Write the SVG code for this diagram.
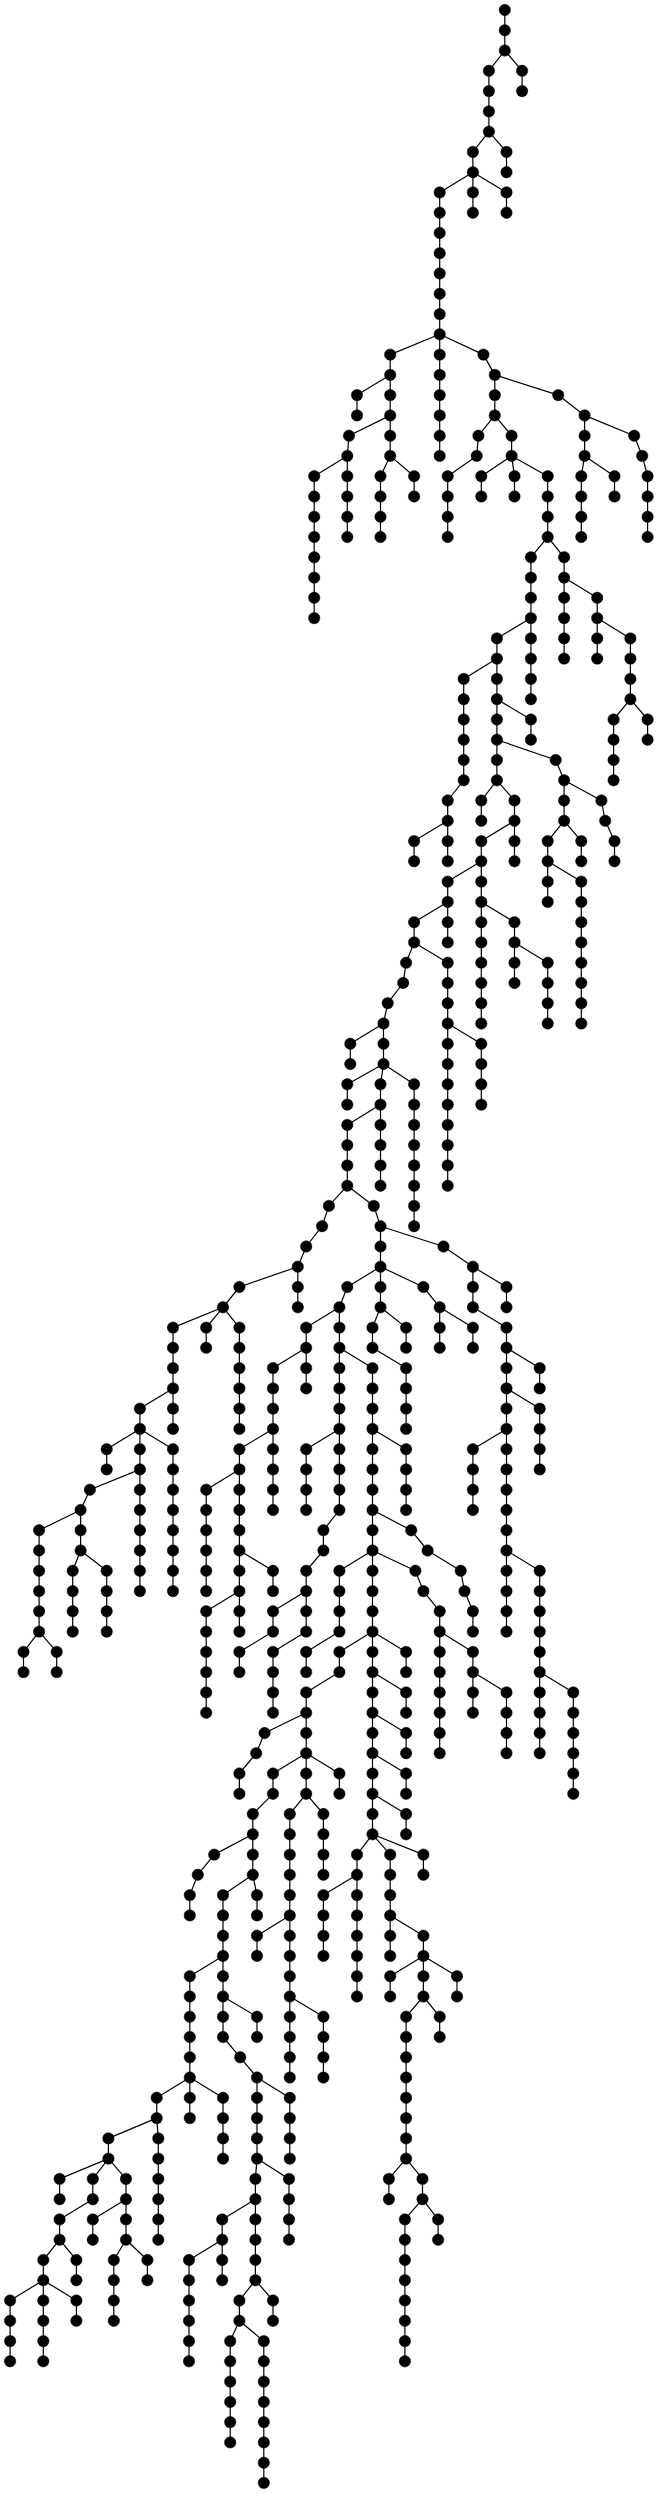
<svg xmlns="http://www.w3.org/2000/svg" width="658" height="2493" viewBox="0 0 658 2493">
<style>
#edges path{stroke:#000;stroke-width:1.2;fill:none}
.nodes circle{fill:#000;stroke:#000;stroke-width:0.5}
</style>
<rect x="0" y="0" width="658" height="2493" fill="#fff"/>
<g id="edges">
<path d="M504.8 10V30.3"/><path d="M504.8 30.3V50.5"/><path d="M504.8 50.5L488.9 70.8"/><path d="M504.8 50.5L522.1 70.8"/>
<path d="M488.9 70.8V91.1"/><path d="M522.1 70.8V91.1"/><path d="M488.9 91.1V111.4"/><path d="M488.9 111.4V131.6"/>
<path d="M488.9 131.6L472.9 151.9"/><path d="M488.9 131.6L506.5 151.9"/><path d="M472.9 151.9V172.2"/><path d="M506.5 151.9V172.2"/>
<path d="M472.9 172.2L439.7 192.4"/><path d="M472.9 172.2V192.4"/><path d="M472.9 172.2L506.5 192.4"/>
<path d="M439.7 192.4V212.7"/><path d="M472.9 192.4V212.7"/><path d="M506.5 192.4V212.7"/>
<path d="M439.7 212.7V233"/><path d="M439.7 233V253.2"/><path d="M439.7 253.2V273.5"/><path d="M439.7 273.5V293.8"/><path d="M439.7 293.8V314.1"/><path d="M439.7 314.1V334.3"/>
<path d="M439.7 334.3L390.2 354.6"/><path d="M439.7 334.3V354.6"/><path d="M439.7 334.3L483.4 354.6"/>
<path d="M390.2 354.6V374.9"/><path d="M439.7 354.6V374.9"/><path d="M483.4 354.6L494.8 374.9"/>
<path d="M390.2 374.9L357 395.1"/><path d="M390.2 374.9V395.1"/><path d="M439.7 374.9V395.1"/><path d="M494.8 374.9V395.1"/><path d="M494.8 374.9L558.2 395.1"/>
<path d="M357 395.1V415.4"/><path d="M390.2 395.1V415.4"/><path d="M439.7 395.1V415.4"/><path d="M494.8 395.1V415.4"/><path d="M558.2 395.1L584.6 415.4"/>
<path d="M390.2 415.4L349 435.7"/><path d="M390.2 415.4V435.7"/><path d="M439.7 415.4V435.7"/><path d="M494.8 415.4L478.4 435.7"/><path d="M494.8 415.4L511.6 435.7"/><path d="M584.6 415.4V435.7"/><path d="M584.6 415.4L634.2 435.7"/>
<path d="M349 435.7L347.3 455.9"/><path d="M390.2 435.7V455.9"/><path d="M439.7 435.7V455.9"/><path d="M478.4 435.7L476.7 455.9"/><path d="M511.6 435.7V455.9"/><path d="M584.6 435.7V455.9"/><path d="M634.2 435.7L642.2 455.9"/>
<path d="M347.3 455.9L314.2 476.2"/><path d="M347.3 455.9V476.2"/><path d="M390.2 455.9L380.5 476.2"/><path d="M390.2 455.9L414.1 476.2"/><path d="M476.7 455.9L447.7 476.2"/><path d="M511.6 455.9L481.3 476.2"/><path d="M511.6 455.9L514.5 476.2"/><path d="M511.6 455.9L547.7 476.2"/><path d="M584.6 455.9L581.3 476.2"/><path d="M584.6 455.9L614.5 476.2"/><path d="M642.2 455.9L647.6 476.2"/>
<path d="M314.2 476.2V496.5"/><path d="M347.3 476.2V496.5"/><path d="M380.5 476.2V496.5"/><path d="M414.1 476.2V496.5"/><path d="M447.7 476.2V496.5"/><path d="M481.3 476.2V496.5"/><path d="M514.5 476.2V496.5"/><path d="M547.7 476.2V496.5"/><path d="M581.3 476.2V496.5"/><path d="M614.5 476.2V496.5"/><path d="M647.6 476.2V496.5"/>
<path d="M314.2 496.5V516.8"/><path d="M347.3 496.5V516.8"/><path d="M380.5 496.5V516.8"/><path d="M447.7 496.5V516.8"/><path d="M547.7 496.5V516.8"/><path d="M581.3 496.5V516.8"/><path d="M647.6 496.5V516.8"/>
<path d="M314.2 516.8V537"/><path d="M347.3 516.8V537"/><path d="M380.5 516.8V537"/><path d="M447.7 516.8V537"/><path d="M547.7 516.8V537"/><path d="M581.3 516.8V537"/><path d="M647.6 516.8V537"/>
<path d="M314.2 537V557.3"/><path d="M547.7 537L530.9 557.3"/><path d="M547.7 537L564.1 557.3"/>
<path d="M314.2 557.3V577.6"/><path d="M530.9 557.3V577.6"/><path d="M564.1 557.3V577.6"/>
<path d="M314.2 577.6V597.8"/><path d="M530.9 577.6V597.8"/><path d="M564.1 577.6V597.8"/><path d="M564.1 577.6L597.2 597.8"/>
<path d="M314.2 597.8V618.1"/><path d="M530.9 597.8V618.1"/><path d="M564.1 597.8V618.1"/><path d="M597.2 597.8V618.1"/>
<path d="M530.9 618.1L496.9 638.4"/><path d="M530.9 618.1V638.4"/><path d="M564.1 618.1V638.4"/><path d="M597.2 618.1V638.4"/><path d="M597.2 618.1L630.4 638.4"/>
<path d="M496.9 638.4V658.6"/><path d="M530.9 638.4V658.6"/><path d="M564.1 638.4V658.6"/><path d="M597.2 638.4V658.6"/><path d="M630.4 638.4V658.6"/>
<path d="M496.9 658.6L463.7 678.9"/><path d="M496.9 658.6V678.9"/><path d="M530.9 658.6V678.9"/><path d="M630.4 658.6V678.9"/>
<path d="M463.7 678.9V699.2"/><path d="M496.9 678.9V699.2"/><path d="M530.9 678.9V699.2"/><path d="M630.4 678.9V699.2"/>
<path d="M463.7 699.2V719.5"/><path d="M496.9 699.2V719.5"/><path d="M496.9 699.2L530.9 719.5"/><path d="M630.4 699.2L613.6 719.5"/><path d="M630.4 699.2L647.6 719.5"/>
<path d="M463.7 719.5V739.7"/><path d="M496.9 719.5V739.7"/><path d="M530.9 719.5V739.7"/><path d="M613.6 719.5V739.7"/><path d="M647.6 719.5V739.7"/>
<path d="M463.7 739.7V760"/><path d="M496.9 739.7V760"/><path d="M496.9 739.7L555.7 760"/><path d="M613.6 739.7V760"/>
<path d="M463.7 760V780.3"/><path d="M496.9 760V780.3"/><path d="M555.7 760L564.1 780.3"/><path d="M613.6 760V780.3"/>
<path d="M463.7 780.3L447.7 800.5"/><path d="M496.9 780.3L481.3 800.5"/><path d="M496.9 780.3L514.5 800.5"/><path d="M564.1 780.3V800.5"/><path d="M564.1 780.3L601.4 800.5"/>
<path d="M447.7 800.5V820.8"/><path d="M481.3 800.5V820.8"/><path d="M514.5 800.5V820.8"/><path d="M564.1 800.5V820.8"/><path d="M601.4 800.5L605.2 820.8"/>
<path d="M447.7 820.8L414.1 841.1"/><path d="M447.7 820.8V841.1"/><path d="M514.5 820.8L481.3 841.1"/><path d="M514.5 820.8V841.1"/><path d="M564.1 820.8L547.7 841.1"/><path d="M564.1 820.8L581.3 841.1"/><path d="M605.2 820.8L614.5 841.1"/>
<path d="M414.1 841.1V861.3"/><path d="M447.7 841.1V861.3"/><path d="M481.3 841.1V861.3"/><path d="M514.5 841.1V861.3"/><path d="M547.7 841.1V861.3"/><path d="M581.3 841.1V861.3"/><path d="M614.5 841.1V861.3"/>
<path d="M481.3 861.3L447.7 881.6"/><path d="M481.3 861.3V881.6"/><path d="M547.7 861.3V881.6"/><path d="M547.7 861.3L581.3 881.6"/>
<path d="M447.7 881.6V901.9"/><path d="M481.3 881.6V901.9"/><path d="M547.7 881.6V901.9"/><path d="M581.3 881.6V901.9"/>
<path d="M447.7 901.9L414.1 922.2"/><path d="M447.7 901.9V922.2"/><path d="M481.3 901.9V922.2"/><path d="M481.3 901.9L514.5 922.2"/><path d="M581.3 901.9V922.2"/>
<path d="M414.1 922.2V942.4"/><path d="M447.7 922.2V942.4"/><path d="M481.3 922.2V942.4"/><path d="M514.5 922.2V942.4"/><path d="M581.3 922.2V942.4"/>
<path d="M414.1 942.4L406.1 962.7"/><path d="M414.1 942.4L447.7 962.7"/><path d="M481.3 942.4V962.7"/><path d="M514.5 942.4V962.7"/><path d="M514.5 942.4L547.7 962.7"/><path d="M581.3 942.4V962.7"/>
<path d="M406.1 962.7L403.2 983"/><path d="M447.7 962.7V983"/><path d="M481.3 962.7V983"/><path d="M514.5 962.7V983"/><path d="M547.7 962.7V983"/><path d="M581.3 962.7V983"/>
<path d="M403.2 983L387.7 1003.2"/><path d="M447.7 983V1003.2"/><path d="M481.3 983V1003.2"/><path d="M547.7 983V1003.2"/><path d="M581.3 983V1003.2"/>
<path d="M387.7 1003.2L383.5 1023.5"/><path d="M447.7 1003.2V1023.5"/><path d="M481.3 1003.2V1023.5"/><path d="M547.7 1003.2V1023.5"/><path d="M581.3 1003.2V1023.5"/>
<path d="M383.5 1023.5L350.3 1043.8"/><path d="M383.5 1023.5V1043.8"/><path d="M447.7 1023.5V1043.8"/><path d="M447.7 1023.5L481.3 1043.8"/>
<path d="M350.3 1043.8V1064"/><path d="M383.5 1043.8V1064"/><path d="M447.7 1043.8V1064"/><path d="M481.3 1043.8V1064"/>
<path d="M383.5 1064L347.3 1084.3"/><path d="M383.5 1064L380.5 1084.3"/><path d="M383.5 1064L414.1 1084.3"/><path d="M447.7 1064V1084.3"/><path d="M481.3 1064V1084.3"/>
<path d="M347.3 1084.3V1104.6"/><path d="M380.5 1084.3V1104.6"/><path d="M414.1 1084.3V1104.6"/><path d="M447.7 1084.3V1104.6"/><path d="M481.3 1084.3V1104.6"/>
<path d="M380.5 1104.6L347.3 1124.9"/><path d="M380.5 1104.6V1124.9"/><path d="M414.1 1104.6V1124.9"/><path d="M447.7 1104.6V1124.9"/>
<path d="M347.3 1124.9V1145.1"/><path d="M380.5 1124.9V1145.1"/><path d="M414.1 1124.9V1145.1"/><path d="M447.7 1124.9V1145.1"/>
<path d="M347.3 1145.1V1165.4"/><path d="M380.5 1145.1V1165.4"/><path d="M414.1 1145.1V1165.4"/><path d="M447.7 1145.1V1165.4"/>
<path d="M347.3 1165.4V1185.7"/><path d="M380.5 1165.4V1185.7"/><path d="M414.1 1165.4V1185.7"/><path d="M447.7 1165.4V1185.7"/>
<path d="M347.3 1185.7L328.9 1205.9"/><path d="M347.3 1185.7L373.8 1205.9"/><path d="M414.1 1185.7V1205.9"/>
<path d="M328.9 1205.9L322.1 1226.2"/><path d="M373.8 1205.9L380.5 1226.2"/><path d="M414.1 1205.9V1226.2"/>
<path d="M322.1 1226.2L306.2 1246.5"/><path d="M380.5 1226.2V1246.5"/><path d="M380.5 1226.2L443.5 1246.5"/>
<path d="M306.2 1246.5L297.8 1266.7"/><path d="M380.5 1246.5V1266.7"/><path d="M443.5 1246.5L472.9 1266.7"/>
<path d="M297.8 1266.7L239.4 1287"/><path d="M297.8 1266.7V1287"/><path d="M380.5 1266.7L347.3 1287"/><path d="M380.5 1266.7V1287"/><path d="M380.5 1266.7L423.4 1287"/><path d="M472.9 1266.7V1287"/><path d="M472.9 1266.7L506.5 1287"/>
<path d="M239.4 1287L223 1307.3"/><path d="M297.8 1287V1307.3"/><path d="M347.3 1287L339.4 1307.3"/><path d="M380.5 1287V1307.3"/><path d="M423.4 1287L439.7 1307.3"/><path d="M472.9 1287V1307.3"/><path d="M506.5 1287V1307.3"/>
<path d="M223 1307.3L173 1327.6"/><path d="M223 1307.3L206.2 1327.6"/><path d="M223 1307.3L239.4 1327.6"/><path d="M339.4 1307.3L306.2 1327.6"/><path d="M339.4 1307.3V1327.6"/><path d="M380.5 1307.3L372.5 1327.6"/><path d="M380.5 1307.3L406.1 1327.6"/><path d="M439.7 1307.3V1327.6"/><path d="M439.7 1307.3L472.9 1327.6"/><path d="M472.9 1307.3L506.5 1327.6"/>
<path d="M173 1327.6V1347.8"/><path d="M206.2 1327.6V1347.8"/><path d="M239.4 1327.6V1347.8"/><path d="M306.2 1327.6V1347.8"/><path d="M339.4 1327.6V1347.8"/><path d="M372.5 1327.6V1347.8"/><path d="M406.1 1327.6V1347.8"/><path d="M439.7 1327.6V1347.8"/><path d="M472.9 1327.6V1347.8"/><path d="M506.5 1327.6V1347.8"/>
<path d="M173 1347.8V1368.1"/><path d="M239.4 1347.8V1368.1"/><path d="M306.2 1347.8L273 1368.1"/><path d="M306.2 1347.8V1368.1"/><path d="M339.4 1347.8V1368.1"/><path d="M339.4 1347.8L372.5 1368.1"/><path d="M372.5 1347.8L406.1 1368.1"/><path d="M506.5 1347.8V1368.1"/><path d="M506.5 1347.8L539.7 1368.1"/>
<path d="M173 1368.1V1388.4"/><path d="M239.4 1368.1V1388.4"/><path d="M273 1368.1V1388.4"/><path d="M306.2 1368.1V1388.4"/><path d="M339.4 1368.1V1388.4"/><path d="M372.5 1368.1V1388.4"/><path d="M406.1 1368.1V1388.4"/><path d="M506.5 1368.1V1388.4"/><path d="M539.7 1368.1V1388.4"/>
<path d="M173 1388.4L139.9 1408.6"/><path d="M173 1388.4V1408.6"/><path d="M239.4 1388.4V1408.6"/><path d="M273 1388.4V1408.6"/><path d="M339.4 1388.4V1408.6"/><path d="M372.5 1388.4V1408.6"/><path d="M406.1 1388.4V1408.6"/><path d="M506.5 1388.4V1408.6"/><path d="M506.5 1388.4L539.7 1408.6"/>
<path d="M139.9 1408.6V1428.9"/><path d="M173 1408.6V1428.9"/><path d="M239.4 1408.6V1428.9"/><path d="M273 1408.6V1428.9"/><path d="M339.4 1408.6V1428.9"/><path d="M372.5 1408.6V1428.9"/><path d="M406.1 1408.6V1428.9"/><path d="M506.5 1408.6V1428.9"/><path d="M539.7 1408.6V1428.9"/>
<path d="M139.9 1428.9L106.7 1449.2"/><path d="M139.9 1428.9V1449.2"/><path d="M139.9 1428.9L173 1449.2"/><path d="M273 1428.9L239.4 1449.2"/><path d="M273 1428.9V1449.2"/><path d="M339.4 1428.9L306.2 1449.2"/><path d="M339.4 1428.9V1449.2"/><path d="M372.5 1428.9V1449.2"/><path d="M372.5 1428.9L406.1 1449.2"/><path d="M506.5 1428.9L472.9 1449.2"/><path d="M506.5 1428.9V1449.2"/><path d="M539.7 1428.9V1449.2"/>
<path d="M106.7 1449.2V1469.4"/><path d="M139.9 1449.2V1469.4"/><path d="M173 1449.2V1469.4"/><path d="M239.4 1449.2V1469.4"/><path d="M273 1449.2V1469.4"/><path d="M306.2 1449.2V1469.4"/><path d="M339.4 1449.2V1469.4"/><path d="M372.5 1449.2V1469.4"/><path d="M406.1 1449.2V1469.4"/><path d="M472.9 1449.2V1469.4"/><path d="M506.5 1449.2V1469.4"/><path d="M539.7 1449.2V1469.4"/>
<path d="M139.9 1469.4L89.9 1489.7"/><path d="M139.9 1469.4V1489.7"/><path d="M173 1469.4V1489.7"/><path d="M239.4 1469.4L206.2 1489.7"/><path d="M239.4 1469.4V1489.7"/><path d="M273 1469.4V1489.7"/><path d="M306.2 1469.4V1489.7"/><path d="M339.4 1469.4V1489.7"/><path d="M372.5 1469.4V1489.7"/><path d="M406.1 1469.4V1489.7"/><path d="M472.9 1469.4V1489.7"/><path d="M506.5 1469.4V1489.7"/>
<path d="M89.9 1489.7L80.6 1510"/><path d="M139.9 1489.7V1510"/><path d="M173 1489.7V1510"/><path d="M206.2 1489.7V1510"/><path d="M239.4 1489.7V1510"/><path d="M273 1489.7V1510"/><path d="M306.2 1489.7V1510"/><path d="M339.4 1489.7V1510"/><path d="M372.5 1489.7V1510"/><path d="M406.1 1489.7V1510"/><path d="M472.9 1489.7V1510"/><path d="M506.5 1489.7V1510"/>
<path d="M80.6 1510L39.1 1530.3"/><path d="M80.6 1510V1530.3"/><path d="M139.9 1510V1530.3"/><path d="M173 1510V1530.3"/><path d="M206.2 1510V1530.3"/><path d="M239.4 1510V1530.3"/><path d="M339.4 1510L323.4 1530.3"/><path d="M372.5 1510V1530.3"/><path d="M372.5 1510L411.2 1530.3"/><path d="M506.5 1510V1530.3"/>
<path d="M39.1 1530.3V1550.5"/><path d="M80.6 1530.3V1550.5"/><path d="M139.9 1530.3V1550.5"/><path d="M173 1530.3V1550.5"/><path d="M206.2 1530.3V1550.5"/><path d="M239.4 1530.3V1550.5"/><path d="M323.4 1530.3V1550.5"/><path d="M372.5 1530.3V1550.5"/><path d="M411.2 1530.3L427.6 1550.5"/><path d="M506.5 1530.3V1550.5"/>
<path d="M39.1 1550.5V1570.8"/><path d="M80.6 1550.5L72.7 1570.8"/><path d="M80.6 1550.5L106.7 1570.8"/><path d="M139.9 1550.5V1570.8"/><path d="M173 1550.5V1570.8"/><path d="M206.2 1550.5V1570.8"/><path d="M239.4 1550.5V1570.8"/><path d="M239.4 1550.5L273 1570.8"/><path d="M323.4 1550.5L306.2 1570.8"/><path d="M372.5 1550.5L339.4 1570.8"/><path d="M372.5 1550.5V1570.8"/><path d="M372.5 1550.5L415.4 1570.8"/><path d="M427.6 1550.5L460.7 1570.8"/><path d="M506.5 1550.5V1570.8"/><path d="M506.5 1550.5L539.7 1570.8"/>
<path d="M39.1 1570.8V1591.1"/><path d="M72.7 1570.8V1591.1"/><path d="M106.7 1570.8V1591.1"/><path d="M139.9 1570.8V1591.1"/><path d="M173 1570.8V1591.1"/><path d="M206.2 1570.8V1591.1"/><path d="M239.4 1570.8V1591.1"/><path d="M273 1570.8V1591.1"/><path d="M306.2 1570.8V1591.1"/><path d="M339.4 1570.8V1591.1"/><path d="M372.5 1570.8V1591.1"/><path d="M415.4 1570.8L423.4 1591.1"/><path d="M460.7 1570.8L464.5 1591.1"/><path d="M506.5 1570.8V1591.1"/><path d="M539.7 1570.8V1591.1"/>
<path d="M39.1 1591.1V1611.3"/><path d="M72.7 1591.1V1611.3"/><path d="M106.7 1591.1V1611.3"/><path d="M239.4 1591.1L206.2 1611.3"/><path d="M239.4 1591.1V1611.3"/><path d="M306.2 1591.1L273 1611.3"/><path d="M306.2 1591.1V1611.3"/><path d="M339.4 1591.1V1611.3"/><path d="M372.5 1591.1V1611.3"/><path d="M423.4 1591.1L439.7 1611.3"/><path d="M464.5 1591.1L472.9 1611.3"/><path d="M506.5 1591.1V1611.3"/><path d="M539.7 1591.1V1611.3"/>
<path d="M39.1 1611.3V1631.6"/><path d="M72.7 1611.3V1631.6"/><path d="M106.7 1611.3V1631.6"/><path d="M206.2 1611.3V1631.6"/><path d="M239.4 1611.3V1631.6"/><path d="M273 1611.3V1631.6"/><path d="M306.2 1611.3V1631.6"/><path d="M339.4 1611.3V1631.6"/><path d="M372.5 1611.3V1631.6"/><path d="M439.7 1611.3V1631.6"/><path d="M472.9 1611.3V1631.6"/><path d="M506.5 1611.3V1631.6"/><path d="M539.7 1611.3V1631.6"/>
<path d="M39.1 1631.6L23.5 1651.9"/><path d="M39.1 1631.6L56.7 1651.9"/><path d="M206.2 1631.6V1651.9"/><path d="M273 1631.6L239.4 1651.9"/><path d="M306.2 1631.6L273 1651.9"/><path d="M339.4 1631.6L306.2 1651.9"/><path d="M372.5 1631.6L339.4 1651.9"/><path d="M372.5 1631.6V1651.9"/><path d="M372.5 1631.6L406.1 1651.9"/><path d="M439.7 1631.6V1651.9"/><path d="M439.7 1631.6L472.9 1651.9"/><path d="M539.7 1631.6V1651.9"/>
<path d="M23.5 1651.9V1672.1"/><path d="M56.7 1651.9V1672.1"/><path d="M206.2 1651.9V1672.1"/><path d="M239.4 1651.9V1672.1"/><path d="M273 1651.9V1672.1"/><path d="M306.2 1651.9V1672.1"/><path d="M339.4 1651.9V1672.1"/><path d="M372.5 1651.9V1672.1"/><path d="M406.1 1651.9V1672.1"/><path d="M439.7 1651.9V1672.1"/><path d="M472.9 1651.9V1672.1"/><path d="M539.7 1651.9V1672.1"/>
<path d="M206.2 1672.1V1692.4"/><path d="M273 1672.1V1692.4"/><path d="M339.4 1672.1L306.2 1692.4"/><path d="M372.5 1672.1V1692.4"/><path d="M372.5 1672.1L406.1 1692.4"/><path d="M439.7 1672.1V1692.4"/><path d="M472.9 1672.1V1692.4"/><path d="M472.9 1672.1L506.5 1692.4"/><path d="M539.7 1672.1V1692.4"/><path d="M539.7 1672.1L573.3 1692.4"/>
<path d="M206.2 1692.4V1712.7"/><path d="M273 1692.4V1712.7"/><path d="M306.2 1692.4V1712.7"/><path d="M372.5 1692.4V1712.7"/><path d="M406.1 1692.4V1712.7"/><path d="M439.7 1692.4V1712.7"/><path d="M472.9 1692.4V1712.7"/><path d="M506.5 1692.4V1712.7"/><path d="M539.7 1692.4V1712.7"/><path d="M573.3 1692.4V1712.7"/>
<path d="M306.2 1712.7L264.6 1733"/><path d="M306.2 1712.7V1733"/><path d="M372.5 1712.7V1733"/><path d="M372.5 1712.7L406.1 1733"/><path d="M439.7 1712.7V1733"/><path d="M506.5 1712.7V1733"/><path d="M539.7 1712.7V1733"/><path d="M573.3 1712.7V1733"/>
<path d="M264.6 1733L256.2 1753.2"/><path d="M306.2 1733V1753.2"/><path d="M372.5 1733V1753.2"/><path d="M406.1 1733V1753.2"/><path d="M439.7 1733V1753.2"/><path d="M506.5 1733V1753.2"/><path d="M539.7 1733V1753.2"/><path d="M573.3 1733V1753.2"/>
<path d="M256.2 1753.2L239.4 1773.5"/><path d="M306.2 1753.2L273 1773.5"/><path d="M306.2 1753.2V1773.5"/><path d="M306.2 1753.2L339.4 1773.5"/><path d="M372.5 1753.2V1773.5"/><path d="M372.5 1753.2L406.1 1773.5"/><path d="M573.3 1753.2V1773.5"/>
<path d="M239.4 1773.5V1793.8"/><path d="M273 1773.5V1793.8"/><path d="M306.2 1773.5V1793.8"/><path d="M339.4 1773.5V1793.8"/><path d="M372.5 1773.5V1793.8"/><path d="M406.1 1773.5V1793.8"/><path d="M573.3 1773.5V1793.8"/>
<path d="M273 1793.8L252.8 1814"/><path d="M306.2 1793.8L289.8 1814"/><path d="M306.2 1793.8L323.4 1814"/><path d="M372.5 1793.8V1814"/><path d="M372.5 1793.8L406.1 1814"/>
<path d="M252.8 1814V1834.3"/><path d="M289.8 1814V1834.3"/><path d="M323.4 1814V1834.3"/><path d="M372.5 1814V1834.3"/><path d="M406.1 1814V1834.3"/>
<path d="M252.8 1834.3L214.2 1854.6"/><path d="M252.8 1834.3V1854.6"/><path d="M289.8 1834.3V1854.6"/><path d="M323.4 1834.3V1854.6"/><path d="M372.5 1834.3L357 1854.6"/><path d="M372.5 1834.3L390.2 1854.6"/><path d="M372.5 1834.3L423.4 1854.6"/>
<path d="M214.2 1854.6L197.8 1874.8"/><path d="M252.8 1854.6V1874.8"/><path d="M289.8 1854.6V1874.8"/><path d="M323.4 1854.6V1874.8"/><path d="M357 1854.6V1874.8"/><path d="M390.2 1854.6V1874.8"/><path d="M423.4 1854.6V1874.8"/>
<path d="M197.8 1874.8L189.8 1895.1"/><path d="M252.8 1874.8L223 1895.1"/><path d="M252.8 1874.8L257 1895.1"/><path d="M289.8 1874.8V1895.1"/><path d="M357 1874.8L323.4 1895.1"/><path d="M357 1874.8V1895.1"/><path d="M390.2 1874.8V1895.1"/>
<path d="M189.8 1895.1V1915.4"/><path d="M223 1895.1V1915.4"/><path d="M257 1895.1V1915.4"/><path d="M289.8 1895.1V1915.4"/><path d="M323.4 1895.1V1915.4"/><path d="M357 1895.1V1915.4"/><path d="M390.2 1895.1V1915.4"/>
<path d="M223 1915.4V1935.7"/><path d="M289.8 1915.4L257 1935.7"/><path d="M289.8 1915.4V1935.7"/><path d="M323.4 1915.4V1935.7"/><path d="M357 1915.4V1935.7"/><path d="M390.2 1915.4V1935.7"/><path d="M390.2 1915.4L423.4 1935.7"/>
<path d="M223 1935.7V1955.9"/><path d="M257 1935.7V1955.9"/><path d="M289.8 1935.7V1955.9"/><path d="M323.4 1935.7V1955.9"/><path d="M357 1935.7V1955.9"/><path d="M390.2 1935.7V1955.9"/><path d="M423.4 1935.7V1955.9"/>
<path d="M223 1955.9L189.8 1976.2"/><path d="M223 1955.9V1976.2"/><path d="M289.8 1955.9V1976.2"/><path d="M357 1955.9V1976.2"/><path d="M423.4 1955.9L390.2 1976.2"/><path d="M423.4 1955.9V1976.2"/><path d="M423.4 1955.9L457 1976.2"/>
<path d="M189.8 1976.2V1996.5"/><path d="M223 1976.2V1996.5"/><path d="M289.8 1976.2V1996.5"/><path d="M357 1976.2V1996.5"/><path d="M390.2 1976.2V1996.5"/><path d="M423.4 1976.2V1996.5"/><path d="M457 1976.2V1996.5"/>
<path d="M189.8 1996.5V2016.7"/><path d="M223 1996.5V2016.7"/><path d="M223 1996.5L257 2016.7"/><path d="M289.8 1996.5V2016.7"/><path d="M289.8 1996.5L323.4 2016.7"/><path d="M423.4 1996.5L406.1 2016.7"/><path d="M423.4 1996.5L439.7 2016.7"/>
<path d="M189.8 2016.7V2037"/><path d="M223 2016.7V2037"/><path d="M257 2016.7V2037"/><path d="M289.8 2016.7V2037"/><path d="M323.4 2016.7V2037"/><path d="M406.1 2016.7V2037"/><path d="M439.7 2016.7V2037"/>
<path d="M189.8 2037V2057.3"/><path d="M223 2037L240.2 2057.3"/><path d="M289.8 2037V2057.3"/><path d="M323.4 2037V2057.3"/><path d="M406.1 2037V2057.3"/>
<path d="M189.8 2057.3V2077.5"/><path d="M240.2 2057.3L257 2077.5"/><path d="M289.8 2057.3V2077.5"/><path d="M323.4 2057.3V2077.5"/><path d="M406.1 2057.3V2077.5"/>
<path d="M189.8 2077.5L156.7 2097.8"/><path d="M189.8 2077.5V2097.8"/><path d="M189.8 2077.5L223 2097.8"/><path d="M257 2077.5V2097.8"/><path d="M257 2077.5L289.8 2097.8"/><path d="M406.1 2077.5V2097.8"/>
<path d="M156.7 2097.8V2118.1"/><path d="M189.8 2097.8V2118.1"/><path d="M223 2097.8V2118.1"/><path d="M257 2097.8V2118.1"/><path d="M289.8 2097.8V2118.1"/><path d="M406.1 2097.8V2118.1"/>
<path d="M156.7 2118.1L108.4 2138.4"/><path d="M156.7 2118.1L158.3 2138.4"/><path d="M223 2118.1V2138.4"/><path d="M257 2118.1V2138.4"/><path d="M289.8 2118.1V2138.4"/><path d="M406.1 2118.1V2138.4"/>
<path d="M108.4 2138.4V2158.6"/><path d="M158.3 2138.4V2158.6"/><path d="M223 2138.4V2158.6"/><path d="M257 2138.4V2158.6"/><path d="M289.8 2138.4V2158.6"/><path d="M406.1 2138.4V2158.6"/>
<path d="M108.4 2158.6L59.6 2178.9"/><path d="M108.4 2158.6L92.8 2178.9"/><path d="M108.4 2158.6L126 2178.9"/><path d="M158.3 2158.6V2178.9"/><path d="M257 2158.6L255.4 2178.9"/><path d="M257 2158.6L289 2178.9"/><path d="M406.1 2158.6L388.9 2178.9"/><path d="M406.1 2158.6L422.5 2178.9"/>
<path d="M59.6 2178.9V2199.2"/><path d="M92.8 2178.9V2199.2"/><path d="M126 2178.9V2199.2"/><path d="M158.3 2178.9V2199.2"/><path d="M255.4 2178.9V2199.2"/><path d="M289 2178.9V2199.2"/><path d="M388.9 2178.9V2199.2"/><path d="M422.5 2178.9V2199.2"/>
<path d="M92.8 2199.2L59.6 2219.4"/><path d="M126 2199.2L92.8 2219.4"/><path d="M126 2199.2V2219.4"/><path d="M158.3 2199.2V2219.4"/><path d="M255.4 2199.2L222.2 2219.4"/><path d="M255.4 2199.2V2219.4"/><path d="M289 2199.2V2219.4"/><path d="M422.5 2199.2L404.9 2219.4"/><path d="M422.5 2199.2L438.1 2219.4"/>
<path d="M59.6 2219.4V2239.7"/><path d="M92.8 2219.4V2239.7"/><path d="M126 2219.4V2239.7"/><path d="M158.3 2219.4V2239.7"/><path d="M222.2 2219.4V2239.7"/><path d="M255.4 2219.4V2239.7"/><path d="M289 2219.4V2239.7"/><path d="M404.9 2219.4V2239.7"/><path d="M438.1 2219.4V2239.7"/>
<path d="M59.6 2239.7L43.3 2260"/><path d="M59.6 2239.7L76.4 2260"/><path d="M126 2239.7L113.8 2260"/><path d="M126 2239.7L147.4 2260"/><path d="M222.2 2239.7L189 2260"/><path d="M222.2 2239.7V2260"/><path d="M255.4 2239.7V2260"/><path d="M404.9 2239.7V2260"/>
<path d="M43.3 2260V2280.2"/><path d="M76.4 2260V2280.2"/><path d="M113.8 2260V2280.2"/><path d="M147.4 2260V2280.2"/><path d="M189 2260V2280.2"/><path d="M222.2 2260V2280.2"/><path d="M255.4 2260V2280.2"/><path d="M404.9 2260V2280.2"/>
<path d="M43.3 2280.2L10.1 2300.5"/><path d="M43.3 2280.2V2300.5"/><path d="M43.3 2280.2L76.4 2300.5"/><path d="M113.8 2280.2V2300.5"/><path d="M189 2280.2V2300.5"/><path d="M255.4 2280.2L239.4 2300.5"/><path d="M255.4 2280.2L273 2300.5"/><path d="M404.9 2280.2V2300.5"/>
<path d="M10.1 2300.5V2320.8"/><path d="M43.3 2300.5V2320.8"/><path d="M76.4 2300.5V2320.8"/><path d="M113.8 2300.5V2320.8"/><path d="M189 2300.5V2320.8"/><path d="M239.4 2300.5V2320.8"/><path d="M273 2300.5V2320.8"/><path d="M404.9 2300.5V2320.8"/>
<path d="M10.1 2320.8V2341.1"/><path d="M43.3 2320.8V2341.1"/><path d="M189 2320.8V2341.1"/><path d="M239.4 2320.8L230.2 2341.1"/><path d="M239.4 2320.8L263.8 2341.1"/><path d="M404.9 2320.8V2341.1"/>
<path d="M10.1 2341.1V2361.3"/><path d="M43.3 2341.1V2361.3"/><path d="M189 2341.1V2361.3"/><path d="M230.2 2341.1V2361.3"/><path d="M263.8 2341.1V2361.3"/><path d="M404.9 2341.1V2361.3"/>
<path d="M230.2 2361.3V2381.6"/><path d="M263.8 2361.3V2381.6"/><path d="M230.2 2381.6V2401.9"/><path d="M263.8 2381.6V2401.9"/><path d="M230.2 2401.9V2422.1"/><path d="M263.8 2401.9V2422.1"/><path d="M230.2 2422.1V2442.4"/><path d="M263.8 2422.1V2442.4"/><path d="M263.8 2442.4V2462.7"/><path d="M263.8 2462.7V2482.9"/>
</g>
<g class="nodes">
<g id="n0_1202"><circle cx="504.8" cy="10" r="5.7"/></g>
<g id="n1_1202"><circle cx="504.8" cy="30.3" r="5.7"/></g>
<g id="n2_1202"><circle cx="504.8" cy="50.5" r="5.7"/></g>
<g id="n3_1164"><circle cx="488.9" cy="70.8" r="5.7"/></g><g id="n3_1243"><circle cx="522.1" cy="70.8" r="5.7"/></g>
<g id="n4_1164"><circle cx="488.9" cy="91.1" r="5.7"/></g><g id="n4_1243"><circle cx="522.1" cy="91.1" r="5.7"/></g>
<g id="n5_1164"><circle cx="488.9" cy="111.4" r="5.7"/></g>
<g id="n6_1164"><circle cx="488.9" cy="131.6" r="5.7"/></g>
<g id="n7_1126"><circle cx="472.9" cy="151.9" r="5.7"/></g><g id="n7_1206"><circle cx="506.5" cy="151.9" r="5.7"/></g>
<g id="n8_1126"><circle cx="472.9" cy="172.2" r="5.7"/></g><g id="n8_1206"><circle cx="506.5" cy="172.2" r="5.7"/></g>
<g id="n9_1047"><circle cx="439.7" cy="192.4" r="5.7"/></g><g id="n9_1126"><circle cx="472.9" cy="192.4" r="5.7"/></g><g id="n9_1206"><circle cx="506.5" cy="192.4" r="5.7"/></g>
<g id="n10_1047"><circle cx="439.7" cy="212.7" r="5.7"/></g><g id="n10_1126"><circle cx="472.9" cy="212.7" r="5.7"/></g><g id="n10_1206"><circle cx="506.5" cy="212.7" r="5.7"/></g>
<g id="n11_1047"><circle cx="439.7" cy="233" r="5.7"/></g>
<g id="n12_1047"><circle cx="439.7" cy="253.2" r="5.7"/></g>
<g id="n13_1047"><circle cx="439.7" cy="273.5" r="5.7"/></g>
<g id="n14_1047"><circle cx="439.7" cy="293.8" r="5.7"/></g>
<g id="n15_1047"><circle cx="439.7" cy="314.1" r="5.7"/></g>
<g id="n16_1047"><circle cx="439.7" cy="334.3" r="5.7"/></g>
<g id="n17_929"><circle cx="390.2" cy="354.6" r="5.7"/></g><g id="n17_1047"><circle cx="439.7" cy="354.6" r="5.7"/></g><g id="n17_1151"><circle cx="483.4" cy="354.6" r="5.7"/></g>
<g id="n18_929"><circle cx="390.2" cy="374.9" r="5.7"/></g><g id="n18_1047"><circle cx="439.7" cy="374.9" r="5.7"/></g><g id="n18_1178"><circle cx="494.8" cy="374.9" r="5.7"/></g>
<g id="n19_850"><circle cx="357" cy="395.1" r="5.7"/></g><g id="n19_929"><circle cx="390.2" cy="395.1" r="5.7"/></g><g id="n19_1047"><circle cx="439.7" cy="395.1" r="5.7"/></g><g id="n19_1178"><circle cx="494.8" cy="395.1" r="5.7"/></g><g id="n19_1329"><circle cx="558.2" cy="395.1" r="5.7"/></g>
<g id="n20_850"><circle cx="357" cy="415.4" r="5.7"/></g><g id="n20_929"><circle cx="390.2" cy="415.4" r="5.7"/></g><g id="n20_1047"><circle cx="439.7" cy="415.4" r="5.7"/></g><g id="n20_1178"><circle cx="494.8" cy="415.4" r="5.7"/></g><g id="n20_1392"><circle cx="584.6" cy="415.4" r="5.7"/></g>
<g id="n21_831"><circle cx="349" cy="435.7" r="5.7"/></g><g id="n21_929"><circle cx="390.2" cy="435.7" r="5.7"/></g><g id="n21_1047"><circle cx="439.7" cy="435.7" r="5.7"/></g><g id="n21_1139"><circle cx="478.4" cy="435.7" r="5.7"/></g><g id="n21_1218"><circle cx="511.6" cy="435.7" r="5.7"/></g><g id="n21_1392"><circle cx="584.6" cy="435.7" r="5.7"/></g><g id="n21_1510"><circle cx="634.2" cy="435.7" r="5.7"/></g>
<g id="n22_827"><circle cx="347.3" cy="455.9" r="5.7"/></g><g id="n22_929"><circle cx="390.2" cy="455.9" r="5.7"/></g><g id="n22_1047"><circle cx="439.7" cy="455.9" r="5.7"/></g><g id="n22_1135"><circle cx="476.7" cy="455.9" r="5.7"/></g><g id="n22_1218"><circle cx="511.6" cy="455.9" r="5.7"/></g><g id="n22_1392"><circle cx="584.6" cy="455.9" r="5.7"/></g><g id="n22_1529"><circle cx="642.2" cy="455.9" r="5.7"/></g>
<g id="n23_748"><circle cx="314.2" cy="476.2" r="5.7"/></g><g id="n23_827"><circle cx="347.3" cy="476.2" r="5.7"/></g><g id="n23_906"><circle cx="380.5" cy="476.2" r="5.7"/></g><g id="n23_986"><circle cx="414.1" cy="476.2" r="5.7"/></g><g id="n23_1066"><circle cx="447.7" cy="476.2" r="5.7"/></g><g id="n23_1146"><circle cx="481.3" cy="476.2" r="5.7"/></g><g id="n23_1225"><circle cx="514.5" cy="476.2" r="5.7"/></g><g id="n23_1304"><circle cx="547.7" cy="476.2" r="5.7"/></g><g id="n23_1384"><circle cx="581.3" cy="476.2" r="5.7"/></g><g id="n23_1463"><circle cx="614.5" cy="476.2" r="5.7"/></g><g id="n23_1543"><circle cx="647.6" cy="476.2" r="5.7"/></g>
<g id="n24_748"><circle cx="314.2" cy="496.5" r="5.7"/></g><g id="n24_827"><circle cx="347.3" cy="496.5" r="5.7"/></g><g id="n24_906"><circle cx="380.5" cy="496.5" r="5.7"/></g><g id="n24_986"><circle cx="414.1" cy="496.5" r="5.7"/></g><g id="n24_1066"><circle cx="447.7" cy="496.5" r="5.7"/></g><g id="n24_1146"><circle cx="481.3" cy="496.5" r="5.7"/></g><g id="n24_1225"><circle cx="514.5" cy="496.5" r="5.7"/></g><g id="n24_1304"><circle cx="547.7" cy="496.5" r="5.7"/></g><g id="n24_1384"><circle cx="581.3" cy="496.5" r="5.7"/></g><g id="n24_1463"><circle cx="614.5" cy="496.5" r="5.7"/></g><g id="n24_1543"><circle cx="647.6" cy="496.5" r="5.7"/></g>
<g id="n25_748"><circle cx="314.2" cy="516.8" r="5.7"/></g><g id="n25_827"><circle cx="347.3" cy="516.8" r="5.7"/></g><g id="n25_906"><circle cx="380.5" cy="516.8" r="5.7"/></g><g id="n25_1066"><circle cx="447.7" cy="516.8" r="5.7"/></g><g id="n25_1304"><circle cx="547.7" cy="516.8" r="5.7"/></g><g id="n25_1384"><circle cx="581.3" cy="516.8" r="5.7"/></g><g id="n25_1543"><circle cx="647.6" cy="516.8" r="5.7"/></g>
<g id="n26_748"><circle cx="314.2" cy="537" r="5.7"/></g><g id="n26_827"><circle cx="347.3" cy="537" r="5.7"/></g><g id="n26_906"><circle cx="380.5" cy="537" r="5.7"/></g><g id="n26_1066"><circle cx="447.7" cy="537" r="5.7"/></g><g id="n26_1304"><circle cx="547.7" cy="537" r="5.7"/></g><g id="n26_1384"><circle cx="581.3" cy="537" r="5.7"/></g><g id="n26_1543"><circle cx="647.6" cy="537" r="5.7"/></g>
<g id="n27_748"><circle cx="314.2" cy="557.3" r="5.7"/></g><g id="n27_1264"><circle cx="530.9" cy="557.3" r="5.7"/></g><g id="n27_1343"><circle cx="564.1" cy="557.3" r="5.7"/></g>
<g id="n28_748"><circle cx="314.2" cy="577.6" r="5.7"/></g><g id="n28_1264"><circle cx="530.9" cy="577.6" r="5.7"/></g><g id="n28_1343"><circle cx="564.1" cy="577.6" r="5.7"/></g>
<g id="n29_748"><circle cx="314.2" cy="597.8" r="5.7"/></g><g id="n29_1264"><circle cx="530.9" cy="597.8" r="5.7"/></g><g id="n29_1343"><circle cx="564.1" cy="597.8" r="5.7"/></g><g id="n29_1422"><circle cx="597.2" cy="597.8" r="5.7"/></g>
<g id="n30_748"><circle cx="314.2" cy="618.1" r="5.7"/></g><g id="n30_1264"><circle cx="530.9" cy="618.1" r="5.7"/></g><g id="n30_1343"><circle cx="564.1" cy="618.1" r="5.7"/></g><g id="n30_1422"><circle cx="597.2" cy="618.1" r="5.7"/></g>
<g id="n31_1183"><circle cx="496.9" cy="638.4" r="5.7"/></g><g id="n31_1264"><circle cx="530.9" cy="638.4" r="5.7"/></g><g id="n31_1343"><circle cx="564.1" cy="638.4" r="5.7"/></g><g id="n31_1422"><circle cx="597.2" cy="638.4" r="5.7"/></g><g id="n31_1501"><circle cx="630.4" cy="638.4" r="5.7"/></g>
<g id="n32_1183"><circle cx="496.9" cy="658.6" r="5.7"/></g><g id="n32_1264"><circle cx="530.9" cy="658.6" r="5.7"/></g><g id="n32_1343"><circle cx="564.1" cy="658.6" r="5.7"/></g><g id="n32_1422"><circle cx="597.2" cy="658.6" r="5.7"/></g><g id="n32_1501"><circle cx="630.4" cy="658.6" r="5.7"/></g>
<g id="n33_1104"><circle cx="463.7" cy="678.9" r="5.7"/></g><g id="n33_1183"><circle cx="496.9" cy="678.9" r="5.7"/></g><g id="n33_1264"><circle cx="530.9" cy="678.9" r="5.7"/></g><g id="n33_1501"><circle cx="630.4" cy="678.9" r="5.7"/></g>
<g id="n34_1104"><circle cx="463.7" cy="699.2" r="5.7"/></g><g id="n34_1183"><circle cx="496.9" cy="699.2" r="5.7"/></g><g id="n34_1264"><circle cx="530.9" cy="699.2" r="5.7"/></g><g id="n34_1501"><circle cx="630.4" cy="699.2" r="5.7"/></g>
<g id="n35_1104"><circle cx="463.7" cy="719.5" r="5.7"/></g><g id="n35_1183"><circle cx="496.9" cy="719.5" r="5.7"/></g><g id="n35_1264"><circle cx="530.9" cy="719.5" r="5.7"/></g><g id="n35_1461"><circle cx="613.6" cy="719.5" r="5.7"/></g><g id="n35_1540"><circle cx="647.6" cy="719.5" r="5.7"/></g>
<g id="n36_1104"><circle cx="463.7" cy="739.7" r="5.7"/></g><g id="n36_1183"><circle cx="496.9" cy="739.7" r="5.7"/></g><g id="n36_1264"><circle cx="530.9" cy="739.7" r="5.7"/></g><g id="n36_1461"><circle cx="613.6" cy="739.7" r="5.7"/></g><g id="n36_1540"><circle cx="647.6" cy="739.7" r="5.7"/></g>
<g id="n37_1104"><circle cx="463.7" cy="760" r="5.7"/></g><g id="n37_1183"><circle cx="496.9" cy="760" r="5.7"/></g><g id="n37_1323"><circle cx="555.7" cy="760" r="5.7"/></g><g id="n37_1461"><circle cx="613.6" cy="760" r="5.7"/></g>
<g id="n38_1104"><circle cx="463.7" cy="780.3" r="5.7"/></g><g id="n38_1183"><circle cx="496.9" cy="780.3" r="5.7"/></g><g id="n38_1343"><circle cx="564.1" cy="780.3" r="5.7"/></g><g id="n38_1461"><circle cx="613.6" cy="780.3" r="5.7"/></g>
<g id="n39_1066"><circle cx="447.7" cy="800.5" r="5.7"/></g><g id="n39_1146"><circle cx="481.3" cy="800.5" r="5.7"/></g><g id="n39_1225"><circle cx="514.5" cy="800.5" r="5.7"/></g><g id="n39_1343"><circle cx="564.1" cy="800.5" r="5.7"/></g><g id="n39_1432"><circle cx="601.4" cy="800.5" r="5.7"/></g>
<g id="n40_1066"><circle cx="447.7" cy="820.8" r="5.7"/></g><g id="n40_1146"><circle cx="481.3" cy="820.8" r="5.7"/></g><g id="n40_1225"><circle cx="514.5" cy="820.8" r="5.7"/></g><g id="n40_1343"><circle cx="564.1" cy="820.8" r="5.7"/></g><g id="n40_1441"><circle cx="605.2" cy="820.8" r="5.7"/></g>
<g id="n41_986"><circle cx="414.1" cy="841.1" r="5.7"/></g><g id="n41_1066"><circle cx="447.7" cy="841.1" r="5.7"/></g><g id="n41_1146"><circle cx="481.3" cy="841.1" r="5.7"/></g><g id="n41_1225"><circle cx="514.5" cy="841.1" r="5.7"/></g><g id="n41_1304"><circle cx="547.7" cy="841.1" r="5.7"/></g><g id="n41_1384"><circle cx="581.3" cy="841.1" r="5.7"/></g><g id="n41_1463"><circle cx="614.5" cy="841.1" r="5.7"/></g>
<g id="n42_986"><circle cx="414.1" cy="861.3" r="5.7"/></g><g id="n42_1066"><circle cx="447.7" cy="861.3" r="5.7"/></g><g id="n42_1146"><circle cx="481.3" cy="861.3" r="5.7"/></g><g id="n42_1225"><circle cx="514.5" cy="861.3" r="5.7"/></g><g id="n42_1304"><circle cx="547.7" cy="861.3" r="5.7"/></g><g id="n42_1384"><circle cx="581.3" cy="861.3" r="5.7"/></g><g id="n42_1463"><circle cx="614.5" cy="861.3" r="5.7"/></g>
<g id="n43_1066"><circle cx="447.7" cy="881.6" r="5.7"/></g><g id="n43_1146"><circle cx="481.3" cy="881.6" r="5.7"/></g><g id="n43_1304"><circle cx="547.7" cy="881.6" r="5.7"/></g><g id="n43_1384"><circle cx="581.3" cy="881.6" r="5.7"/></g>
<g id="n44_1066"><circle cx="447.7" cy="901.9" r="5.7"/></g><g id="n44_1146"><circle cx="481.3" cy="901.9" r="5.7"/></g><g id="n44_1304"><circle cx="547.7" cy="901.9" r="5.7"/></g><g id="n44_1384"><circle cx="581.3" cy="901.9" r="5.7"/></g>
<g id="n45_986"><circle cx="414.1" cy="922.2" r="5.7"/></g><g id="n45_1066"><circle cx="447.7" cy="922.2" r="5.7"/></g><g id="n45_1146"><circle cx="481.3" cy="922.2" r="5.7"/></g><g id="n45_1225"><circle cx="514.5" cy="922.2" r="5.7"/></g><g id="n45_1384"><circle cx="581.3" cy="922.2" r="5.7"/></g>
<g id="n46_986"><circle cx="414.1" cy="942.4" r="5.7"/></g><g id="n46_1066"><circle cx="447.7" cy="942.4" r="5.7"/></g><g id="n46_1146"><circle cx="481.3" cy="942.4" r="5.7"/></g><g id="n46_1225"><circle cx="514.5" cy="942.4" r="5.7"/></g><g id="n46_1384"><circle cx="581.3" cy="942.4" r="5.7"/></g>
<g id="n47_967"><circle cx="406.1" cy="962.7" r="5.7"/></g><g id="n47_1066"><circle cx="447.7" cy="962.7" r="5.7"/></g><g id="n47_1146"><circle cx="481.3" cy="962.7" r="5.7"/></g><g id="n47_1225"><circle cx="514.5" cy="962.7" r="5.7"/></g><g id="n47_1304"><circle cx="547.7" cy="962.7" r="5.7"/></g><g id="n47_1384"><circle cx="581.3" cy="962.7" r="5.7"/></g>
<g id="n48_960"><circle cx="403.2" cy="983" r="5.7"/></g><g id="n48_1066"><circle cx="447.7" cy="983" r="5.7"/></g><g id="n48_1146"><circle cx="481.3" cy="983" r="5.7"/></g><g id="n48_1225"><circle cx="514.5" cy="983" r="5.7"/></g><g id="n48_1304"><circle cx="547.7" cy="983" r="5.7"/></g><g id="n48_1384"><circle cx="581.3" cy="983" r="5.7"/></g>
<g id="n49_923"><circle cx="387.7" cy="1003.2" r="5.7"/></g><g id="n49_1066"><circle cx="447.7" cy="1003.2" r="5.7"/></g><g id="n49_1146"><circle cx="481.3" cy="1003.2" r="5.7"/></g><g id="n49_1304"><circle cx="547.7" cy="1003.2" r="5.7"/></g><g id="n49_1384"><circle cx="581.3" cy="1003.2" r="5.7"/></g>
<g id="n50_913"><circle cx="383.5" cy="1023.5" r="5.7"/></g><g id="n50_1066"><circle cx="447.7" cy="1023.5" r="5.7"/></g><g id="n50_1146"><circle cx="481.3" cy="1023.5" r="5.7"/></g><g id="n50_1304"><circle cx="547.7" cy="1023.5" r="5.7"/></g><g id="n50_1384"><circle cx="581.3" cy="1023.5" r="5.7"/></g>
<g id="n51_834"><circle cx="350.3" cy="1043.8" r="5.7"/></g><g id="n51_913"><circle cx="383.5" cy="1043.8" r="5.7"/></g><g id="n51_1066"><circle cx="447.7" cy="1043.8" r="5.7"/></g><g id="n51_1146"><circle cx="481.3" cy="1043.8" r="5.7"/></g>
<g id="n52_834"><circle cx="350.3" cy="1064" r="5.7"/></g><g id="n52_913"><circle cx="383.5" cy="1064" r="5.7"/></g><g id="n52_1066"><circle cx="447.7" cy="1064" r="5.7"/></g><g id="n52_1146"><circle cx="481.3" cy="1064" r="5.7"/></g>
<g id="n53_827"><circle cx="347.3" cy="1084.3" r="5.7"/></g><g id="n53_906"><circle cx="380.5" cy="1084.3" r="5.7"/></g><g id="n53_986"><circle cx="414.1" cy="1084.3" r="5.7"/></g><g id="n53_1066"><circle cx="447.7" cy="1084.3" r="5.7"/></g><g id="n53_1146"><circle cx="481.3" cy="1084.3" r="5.7"/></g>
<g id="n54_827"><circle cx="347.3" cy="1104.6" r="5.7"/></g><g id="n54_906"><circle cx="380.5" cy="1104.6" r="5.7"/></g><g id="n54_986"><circle cx="414.1" cy="1104.6" r="5.7"/></g><g id="n54_1066"><circle cx="447.7" cy="1104.6" r="5.7"/></g><g id="n54_1146"><circle cx="481.3" cy="1104.6" r="5.7"/></g>
<g id="n55_827"><circle cx="347.3" cy="1124.9" r="5.7"/></g><g id="n55_906"><circle cx="380.5" cy="1124.9" r="5.7"/></g><g id="n55_986"><circle cx="414.1" cy="1124.9" r="5.7"/></g><g id="n55_1066"><circle cx="447.7" cy="1124.9" r="5.7"/></g>
<g id="n56_827"><circle cx="347.3" cy="1145.1" r="5.7"/></g><g id="n56_906"><circle cx="380.5" cy="1145.1" r="5.7"/></g><g id="n56_986"><circle cx="414.1" cy="1145.1" r="5.7"/></g><g id="n56_1066"><circle cx="447.7" cy="1145.1" r="5.7"/></g>
<g id="n57_827"><circle cx="347.3" cy="1165.4" r="5.7"/></g><g id="n57_906"><circle cx="380.5" cy="1165.4" r="5.7"/></g><g id="n57_986"><circle cx="414.1" cy="1165.4" r="5.7"/></g><g id="n57_1066"><circle cx="447.7" cy="1165.4" r="5.7"/></g>
<g id="n58_827"><circle cx="347.3" cy="1185.7" r="5.7"/></g><g id="n58_906"><circle cx="380.5" cy="1185.7" r="5.7"/></g><g id="n58_986"><circle cx="414.1" cy="1185.7" r="5.7"/></g><g id="n58_1066"><circle cx="447.7" cy="1185.7" r="5.7"/></g>
<g id="n59_783"><circle cx="328.9" cy="1205.9" r="5.7"/></g><g id="n59_890"><circle cx="373.8" cy="1205.9" r="5.7"/></g><g id="n59_986"><circle cx="414.1" cy="1205.9" r="5.7"/></g>
<g id="n60_767"><circle cx="322.1" cy="1226.2" r="5.7"/></g><g id="n60_906"><circle cx="380.5" cy="1226.2" r="5.7"/></g><g id="n60_986"><circle cx="414.1" cy="1226.2" r="5.7"/></g>
<g id="n61_729"><circle cx="306.2" cy="1246.5" r="5.7"/></g><g id="n61_906"><circle cx="380.5" cy="1246.5" r="5.7"/></g><g id="n61_1056"><circle cx="443.5" cy="1246.5" r="5.7"/></g>
<g id="n62_709"><circle cx="297.8" cy="1266.7" r="5.7"/></g><g id="n62_906"><circle cx="380.5" cy="1266.7" r="5.7"/></g><g id="n62_1126"><circle cx="472.9" cy="1266.7" r="5.7"/></g>
<g id="n63_570"><circle cx="239.4" cy="1287" r="5.7"/></g><g id="n63_709"><circle cx="297.8" cy="1287" r="5.7"/></g><g id="n63_827"><circle cx="347.3" cy="1287" r="5.7"/></g><g id="n63_906"><circle cx="380.5" cy="1287" r="5.7"/></g><g id="n63_1008"><circle cx="423.4" cy="1287" r="5.7"/></g><g id="n63_1126"><circle cx="472.9" cy="1287" r="5.7"/></g><g id="n63_1206"><circle cx="506.5" cy="1287" r="5.7"/></g>
<g id="n64_531"><circle cx="223" cy="1307.3" r="5.7"/></g><g id="n64_709"><circle cx="297.8" cy="1307.3" r="5.7"/></g><g id="n64_808"><circle cx="339.4" cy="1307.3" r="5.7"/></g><g id="n64_906"><circle cx="380.5" cy="1307.3" r="5.7"/></g><g id="n64_1047"><circle cx="439.7" cy="1307.3" r="5.7"/></g><g id="n64_1126"><circle cx="472.9" cy="1307.3" r="5.7"/></g><g id="n64_1206"><circle cx="506.5" cy="1307.3" r="5.7"/></g>
<g id="n65_412"><circle cx="173" cy="1327.6" r="5.7"/></g><g id="n65_491"><circle cx="206.2" cy="1327.6" r="5.7"/></g><g id="n65_570"><circle cx="239.4" cy="1327.6" r="5.7"/></g><g id="n65_729"><circle cx="306.2" cy="1327.6" r="5.7"/></g><g id="n65_808"><circle cx="339.4" cy="1327.6" r="5.7"/></g><g id="n65_887"><circle cx="372.5" cy="1327.6" r="5.7"/></g><g id="n65_967"><circle cx="406.1" cy="1327.6" r="5.7"/></g><g id="n65_1047"><circle cx="439.7" cy="1327.6" r="5.7"/></g><g id="n65_1126"><circle cx="472.9" cy="1327.6" r="5.7"/></g><g id="n65_1206"><circle cx="506.5" cy="1327.6" r="5.7"/></g>
<g id="n66_412"><circle cx="173" cy="1347.8" r="5.7"/></g><g id="n66_491"><circle cx="206.2" cy="1347.8" r="5.7"/></g><g id="n66_570"><circle cx="239.4" cy="1347.8" r="5.7"/></g><g id="n66_729"><circle cx="306.2" cy="1347.8" r="5.7"/></g><g id="n66_808"><circle cx="339.4" cy="1347.8" r="5.7"/></g><g id="n66_887"><circle cx="372.5" cy="1347.8" r="5.7"/></g><g id="n66_967"><circle cx="406.1" cy="1347.8" r="5.7"/></g><g id="n66_1047"><circle cx="439.7" cy="1347.8" r="5.7"/></g><g id="n66_1126"><circle cx="472.9" cy="1347.8" r="5.7"/></g><g id="n66_1206"><circle cx="506.5" cy="1347.8" r="5.7"/></g>
<g id="n67_412"><circle cx="173" cy="1368.1" r="5.7"/></g><g id="n67_570"><circle cx="239.4" cy="1368.1" r="5.7"/></g><g id="n67_650"><circle cx="273" cy="1368.1" r="5.7"/></g><g id="n67_729"><circle cx="306.2" cy="1368.1" r="5.7"/></g><g id="n67_808"><circle cx="339.4" cy="1368.1" r="5.7"/></g><g id="n67_887"><circle cx="372.5" cy="1368.1" r="5.7"/></g><g id="n67_967"><circle cx="406.1" cy="1368.1" r="5.7"/></g><g id="n67_1206"><circle cx="506.5" cy="1368.1" r="5.7"/></g><g id="n67_1285"><circle cx="539.7" cy="1368.1" r="5.7"/></g>
<g id="n68_412"><circle cx="173" cy="1388.4" r="5.7"/></g><g id="n68_570"><circle cx="239.4" cy="1388.4" r="5.7"/></g><g id="n68_650"><circle cx="273" cy="1388.4" r="5.7"/></g><g id="n68_729"><circle cx="306.2" cy="1388.4" r="5.7"/></g><g id="n68_808"><circle cx="339.4" cy="1388.4" r="5.7"/></g><g id="n68_887"><circle cx="372.5" cy="1388.4" r="5.7"/></g><g id="n68_967"><circle cx="406.1" cy="1388.4" r="5.7"/></g><g id="n68_1206"><circle cx="506.5" cy="1388.4" r="5.7"/></g><g id="n68_1285"><circle cx="539.7" cy="1388.4" r="5.7"/></g>
<g id="n69_333"><circle cx="139.9" cy="1408.6" r="5.7"/></g><g id="n69_412"><circle cx="173" cy="1408.6" r="5.7"/></g><g id="n69_570"><circle cx="239.4" cy="1408.6" r="5.7"/></g><g id="n69_650"><circle cx="273" cy="1408.6" r="5.7"/></g><g id="n69_808"><circle cx="339.4" cy="1408.6" r="5.7"/></g><g id="n69_887"><circle cx="372.5" cy="1408.6" r="5.7"/></g><g id="n69_967"><circle cx="406.1" cy="1408.6" r="5.7"/></g><g id="n69_1206"><circle cx="506.5" cy="1408.6" r="5.7"/></g><g id="n69_1285"><circle cx="539.7" cy="1408.6" r="5.7"/></g>
<g id="n70_333"><circle cx="139.9" cy="1428.9" r="5.7"/></g><g id="n70_412"><circle cx="173" cy="1428.9" r="5.7"/></g><g id="n70_570"><circle cx="239.4" cy="1428.9" r="5.7"/></g><g id="n70_650"><circle cx="273" cy="1428.9" r="5.7"/></g><g id="n70_808"><circle cx="339.4" cy="1428.9" r="5.7"/></g><g id="n70_887"><circle cx="372.5" cy="1428.9" r="5.7"/></g><g id="n70_967"><circle cx="406.1" cy="1428.9" r="5.7"/></g><g id="n70_1206"><circle cx="506.5" cy="1428.9" r="5.7"/></g><g id="n70_1285"><circle cx="539.7" cy="1428.9" r="5.7"/></g>
<g id="n71_254"><circle cx="106.7" cy="1449.2" r="5.7"/></g><g id="n71_333"><circle cx="139.9" cy="1449.2" r="5.7"/></g><g id="n71_412"><circle cx="173" cy="1449.2" r="5.7"/></g><g id="n71_570"><circle cx="239.4" cy="1449.2" r="5.7"/></g><g id="n71_650"><circle cx="273" cy="1449.2" r="5.7"/></g><g id="n71_729"><circle cx="306.2" cy="1449.2" r="5.7"/></g><g id="n71_808"><circle cx="339.4" cy="1449.2" r="5.7"/></g><g id="n71_887"><circle cx="372.5" cy="1449.2" r="5.7"/></g><g id="n71_967"><circle cx="406.1" cy="1449.2" r="5.7"/></g><g id="n71_1126"><circle cx="472.9" cy="1449.2" r="5.7"/></g><g id="n71_1206"><circle cx="506.5" cy="1449.2" r="5.7"/></g><g id="n71_1285"><circle cx="539.7" cy="1449.2" r="5.7"/></g>
<g id="n72_254"><circle cx="106.7" cy="1469.4" r="5.7"/></g><g id="n72_333"><circle cx="139.9" cy="1469.4" r="5.7"/></g><g id="n72_412"><circle cx="173" cy="1469.4" r="5.7"/></g><g id="n72_570"><circle cx="239.4" cy="1469.4" r="5.7"/></g><g id="n72_650"><circle cx="273" cy="1469.4" r="5.7"/></g><g id="n72_729"><circle cx="306.2" cy="1469.4" r="5.7"/></g><g id="n72_808"><circle cx="339.4" cy="1469.4" r="5.7"/></g><g id="n72_887"><circle cx="372.5" cy="1469.4" r="5.7"/></g><g id="n72_967"><circle cx="406.1" cy="1469.4" r="5.7"/></g><g id="n72_1126"><circle cx="472.9" cy="1469.4" r="5.7"/></g><g id="n72_1206"><circle cx="506.5" cy="1469.4" r="5.7"/></g><g id="n72_1285"><circle cx="539.7" cy="1469.4" r="5.7"/></g>
<g id="n73_214"><circle cx="89.9" cy="1489.7" r="5.7"/></g><g id="n73_333"><circle cx="139.9" cy="1489.7" r="5.7"/></g><g id="n73_412"><circle cx="173" cy="1489.7" r="5.7"/></g><g id="n73_491"><circle cx="206.2" cy="1489.7" r="5.7"/></g><g id="n73_570"><circle cx="239.4" cy="1489.7" r="5.7"/></g><g id="n73_650"><circle cx="273" cy="1489.7" r="5.7"/></g><g id="n73_729"><circle cx="306.2" cy="1489.7" r="5.7"/></g><g id="n73_808"><circle cx="339.4" cy="1489.7" r="5.7"/></g><g id="n73_887"><circle cx="372.5" cy="1489.7" r="5.7"/></g><g id="n73_967"><circle cx="406.1" cy="1489.7" r="5.7"/></g><g id="n73_1126"><circle cx="472.9" cy="1489.7" r="5.7"/></g><g id="n73_1206"><circle cx="506.5" cy="1489.7" r="5.7"/></g>
<g id="n74_192"><circle cx="80.6" cy="1510" r="5.7"/></g><g id="n74_333"><circle cx="139.9" cy="1510" r="5.7"/></g><g id="n74_412"><circle cx="173" cy="1510" r="5.7"/></g><g id="n74_491"><circle cx="206.2" cy="1510" r="5.7"/></g><g id="n74_570"><circle cx="239.4" cy="1510" r="5.7"/></g><g id="n74_650"><circle cx="273" cy="1510" r="5.7"/></g><g id="n74_729"><circle cx="306.2" cy="1510" r="5.7"/></g><g id="n74_808"><circle cx="339.4" cy="1510" r="5.7"/></g><g id="n74_887"><circle cx="372.5" cy="1510" r="5.7"/></g><g id="n74_967"><circle cx="406.1" cy="1510" r="5.7"/></g><g id="n74_1126"><circle cx="472.9" cy="1510" r="5.7"/></g><g id="n74_1206"><circle cx="506.5" cy="1510" r="5.7"/></g>
<g id="n75_93"><circle cx="39.1" cy="1530.3" r="5.7"/></g><g id="n75_192"><circle cx="80.6" cy="1530.3" r="5.7"/></g><g id="n75_333"><circle cx="139.9" cy="1530.3" r="5.7"/></g><g id="n75_412"><circle cx="173" cy="1530.3" r="5.7"/></g><g id="n75_491"><circle cx="206.2" cy="1530.3" r="5.7"/></g><g id="n75_570"><circle cx="239.4" cy="1530.3" r="5.7"/></g><g id="n75_770"><circle cx="323.4" cy="1530.3" r="5.7"/></g><g id="n75_887"><circle cx="372.5" cy="1530.3" r="5.7"/></g><g id="n75_979"><circle cx="411.2" cy="1530.3" r="5.7"/></g><g id="n75_1206"><circle cx="506.5" cy="1530.3" r="5.7"/></g>
<g id="n76_93"><circle cx="39.1" cy="1550.5" r="5.7"/></g><g id="n76_192"><circle cx="80.6" cy="1550.5" r="5.7"/></g><g id="n76_333"><circle cx="139.9" cy="1550.5" r="5.7"/></g><g id="n76_412"><circle cx="173" cy="1550.5" r="5.7"/></g><g id="n76_491"><circle cx="206.2" cy="1550.5" r="5.7"/></g><g id="n76_570"><circle cx="239.4" cy="1550.5" r="5.7"/></g><g id="n76_770"><circle cx="323.4" cy="1550.5" r="5.7"/></g><g id="n76_887"><circle cx="372.5" cy="1550.5" r="5.7"/></g><g id="n76_1018"><circle cx="427.6" cy="1550.5" r="5.7"/></g><g id="n76_1206"><circle cx="506.5" cy="1550.5" r="5.7"/></g>
<g id="n77_93"><circle cx="39.1" cy="1570.8" r="5.7"/></g><g id="n77_173"><circle cx="72.7" cy="1570.8" r="5.7"/></g><g id="n77_254"><circle cx="106.7" cy="1570.8" r="5.7"/></g><g id="n77_333"><circle cx="139.9" cy="1570.8" r="5.7"/></g><g id="n77_412"><circle cx="173" cy="1570.8" r="5.7"/></g><g id="n77_491"><circle cx="206.2" cy="1570.8" r="5.7"/></g><g id="n77_570"><circle cx="239.4" cy="1570.8" r="5.7"/></g><g id="n77_650"><circle cx="273" cy="1570.8" r="5.7"/></g><g id="n77_729"><circle cx="306.2" cy="1570.8" r="5.7"/></g><g id="n77_808"><circle cx="339.4" cy="1570.8" r="5.7"/></g><g id="n77_887"><circle cx="372.5" cy="1570.8" r="5.7"/></g><g id="n77_989"><circle cx="415.4" cy="1570.8" r="5.7"/></g><g id="n77_1097"><circle cx="460.7" cy="1570.8" r="5.7"/></g><g id="n77_1206"><circle cx="506.5" cy="1570.8" r="5.7"/></g><g id="n77_1285"><circle cx="539.7" cy="1570.8" r="5.7"/></g>
<g id="n78_93"><circle cx="39.1" cy="1591.1" r="5.7"/></g><g id="n78_173"><circle cx="72.7" cy="1591.1" r="5.7"/></g><g id="n78_254"><circle cx="106.7" cy="1591.1" r="5.7"/></g><g id="n78_333"><circle cx="139.9" cy="1591.1" r="5.7"/></g><g id="n78_412"><circle cx="173" cy="1591.1" r="5.7"/></g><g id="n78_491"><circle cx="206.2" cy="1591.1" r="5.7"/></g><g id="n78_570"><circle cx="239.4" cy="1591.1" r="5.7"/></g><g id="n78_650"><circle cx="273" cy="1591.1" r="5.7"/></g><g id="n78_729"><circle cx="306.2" cy="1591.1" r="5.7"/></g><g id="n78_808"><circle cx="339.4" cy="1591.1" r="5.7"/></g><g id="n78_887"><circle cx="372.5" cy="1591.1" r="5.7"/></g><g id="n78_1008"><circle cx="423.4" cy="1591.1" r="5.7"/></g><g id="n78_1106"><circle cx="464.5" cy="1591.1" r="5.7"/></g><g id="n78_1206"><circle cx="506.5" cy="1591.1" r="5.7"/></g><g id="n78_1285"><circle cx="539.7" cy="1591.1" r="5.7"/></g>
<g id="n79_93"><circle cx="39.1" cy="1611.3" r="5.7"/></g><g id="n79_173"><circle cx="72.7" cy="1611.3" r="5.7"/></g><g id="n79_254"><circle cx="106.7" cy="1611.3" r="5.7"/></g><g id="n79_491"><circle cx="206.2" cy="1611.3" r="5.7"/></g><g id="n79_570"><circle cx="239.4" cy="1611.3" r="5.7"/></g><g id="n79_650"><circle cx="273" cy="1611.3" r="5.7"/></g><g id="n79_729"><circle cx="306.2" cy="1611.3" r="5.7"/></g><g id="n79_808"><circle cx="339.4" cy="1611.3" r="5.7"/></g><g id="n79_887"><circle cx="372.5" cy="1611.3" r="5.7"/></g><g id="n79_1047"><circle cx="439.7" cy="1611.3" r="5.7"/></g><g id="n79_1126"><circle cx="472.9" cy="1611.3" r="5.7"/></g><g id="n79_1206"><circle cx="506.5" cy="1611.3" r="5.7"/></g><g id="n79_1285"><circle cx="539.7" cy="1611.3" r="5.7"/></g>
<g id="n80_93"><circle cx="39.1" cy="1631.6" r="5.7"/></g><g id="n80_173"><circle cx="72.7" cy="1631.6" r="5.7"/></g><g id="n80_254"><circle cx="106.7" cy="1631.6" r="5.7"/></g><g id="n80_491"><circle cx="206.2" cy="1631.6" r="5.7"/></g><g id="n80_570"><circle cx="239.4" cy="1631.6" r="5.7"/></g><g id="n80_650"><circle cx="273" cy="1631.6" r="5.7"/></g><g id="n80_729"><circle cx="306.2" cy="1631.6" r="5.7"/></g><g id="n80_808"><circle cx="339.4" cy="1631.6" r="5.7"/></g><g id="n80_887"><circle cx="372.5" cy="1631.6" r="5.7"/></g><g id="n80_1047"><circle cx="439.7" cy="1631.6" r="5.7"/></g><g id="n80_1126"><circle cx="472.9" cy="1631.6" r="5.7"/></g><g id="n80_1206"><circle cx="506.5" cy="1631.6" r="5.7"/></g><g id="n80_1285"><circle cx="539.7" cy="1631.6" r="5.7"/></g>
<g id="n81_56"><circle cx="23.5" cy="1651.9" r="5.7"/></g><g id="n81_135"><circle cx="56.7" cy="1651.9" r="5.7"/></g><g id="n81_491"><circle cx="206.2" cy="1651.9" r="5.7"/></g><g id="n81_570"><circle cx="239.4" cy="1651.9" r="5.7"/></g><g id="n81_650"><circle cx="273" cy="1651.9" r="5.7"/></g><g id="n81_729"><circle cx="306.2" cy="1651.9" r="5.7"/></g><g id="n81_808"><circle cx="339.4" cy="1651.9" r="5.7"/></g><g id="n81_887"><circle cx="372.5" cy="1651.9" r="5.7"/></g><g id="n81_967"><circle cx="406.1" cy="1651.9" r="5.7"/></g><g id="n81_1047"><circle cx="439.7" cy="1651.9" r="5.7"/></g><g id="n81_1126"><circle cx="472.9" cy="1651.9" r="5.7"/></g><g id="n81_1285"><circle cx="539.7" cy="1651.9" r="5.7"/></g>
<g id="n82_56"><circle cx="23.5" cy="1672.1" r="5.7"/></g><g id="n82_135"><circle cx="56.7" cy="1672.1" r="5.7"/></g><g id="n82_491"><circle cx="206.2" cy="1672.1" r="5.7"/></g><g id="n82_570"><circle cx="239.4" cy="1672.1" r="5.7"/></g><g id="n82_650"><circle cx="273" cy="1672.1" r="5.7"/></g><g id="n82_729"><circle cx="306.2" cy="1672.1" r="5.7"/></g><g id="n82_808"><circle cx="339.4" cy="1672.1" r="5.7"/></g><g id="n82_887"><circle cx="372.5" cy="1672.1" r="5.7"/></g><g id="n82_967"><circle cx="406.1" cy="1672.1" r="5.7"/></g><g id="n82_1047"><circle cx="439.7" cy="1672.1" r="5.7"/></g><g id="n82_1126"><circle cx="472.9" cy="1672.1" r="5.7"/></g><g id="n82_1285"><circle cx="539.7" cy="1672.1" r="5.7"/></g>
<g id="n83_491"><circle cx="206.2" cy="1692.4" r="5.7"/></g><g id="n83_650"><circle cx="273" cy="1692.4" r="5.7"/></g><g id="n83_729"><circle cx="306.2" cy="1692.4" r="5.7"/></g><g id="n83_887"><circle cx="372.5" cy="1692.4" r="5.7"/></g><g id="n83_967"><circle cx="406.1" cy="1692.4" r="5.7"/></g><g id="n83_1047"><circle cx="439.7" cy="1692.4" r="5.7"/></g><g id="n83_1126"><circle cx="472.9" cy="1692.4" r="5.7"/></g><g id="n83_1206"><circle cx="506.5" cy="1692.4" r="5.7"/></g><g id="n83_1285"><circle cx="539.7" cy="1692.4" r="5.7"/></g><g id="n83_1365"><circle cx="573.3" cy="1692.4" r="5.7"/></g>
<g id="n84_491"><circle cx="206.2" cy="1712.7" r="5.7"/></g><g id="n84_650"><circle cx="273" cy="1712.7" r="5.7"/></g><g id="n84_729"><circle cx="306.2" cy="1712.7" r="5.7"/></g><g id="n84_887"><circle cx="372.5" cy="1712.7" r="5.7"/></g><g id="n84_967"><circle cx="406.1" cy="1712.7" r="5.7"/></g><g id="n84_1047"><circle cx="439.7" cy="1712.7" r="5.7"/></g><g id="n84_1126"><circle cx="472.9" cy="1712.7" r="5.7"/></g><g id="n84_1206"><circle cx="506.5" cy="1712.7" r="5.7"/></g><g id="n84_1285"><circle cx="539.7" cy="1712.7" r="5.7"/></g><g id="n84_1365"><circle cx="573.3" cy="1712.7" r="5.7"/></g>
<g id="n85_630"><circle cx="264.6" cy="1733" r="5.7"/></g><g id="n85_729"><circle cx="306.2" cy="1733" r="5.7"/></g><g id="n85_887"><circle cx="372.5" cy="1733" r="5.7"/></g><g id="n85_967"><circle cx="406.1" cy="1733" r="5.7"/></g><g id="n85_1047"><circle cx="439.7" cy="1733" r="5.7"/></g><g id="n85_1206"><circle cx="506.5" cy="1733" r="5.7"/></g><g id="n85_1285"><circle cx="539.7" cy="1733" r="5.7"/></g><g id="n85_1365"><circle cx="573.3" cy="1733" r="5.7"/></g>
<g id="n86_610"><circle cx="256.2" cy="1753.2" r="5.7"/></g><g id="n86_729"><circle cx="306.2" cy="1753.2" r="5.7"/></g><g id="n86_887"><circle cx="372.5" cy="1753.2" r="5.7"/></g><g id="n86_967"><circle cx="406.1" cy="1753.2" r="5.7"/></g><g id="n86_1047"><circle cx="439.7" cy="1753.2" r="5.7"/></g><g id="n86_1206"><circle cx="506.5" cy="1753.2" r="5.7"/></g><g id="n86_1285"><circle cx="539.7" cy="1753.2" r="5.7"/></g><g id="n86_1365"><circle cx="573.3" cy="1753.2" r="5.7"/></g>
<g id="n87_570"><circle cx="239.4" cy="1773.5" r="5.7"/></g><g id="n87_650"><circle cx="273" cy="1773.5" r="5.7"/></g><g id="n87_729"><circle cx="306.2" cy="1773.5" r="5.7"/></g><g id="n87_808"><circle cx="339.4" cy="1773.5" r="5.7"/></g><g id="n87_887"><circle cx="372.5" cy="1773.5" r="5.7"/></g><g id="n87_967"><circle cx="406.1" cy="1773.5" r="5.7"/></g><g id="n87_1365"><circle cx="573.3" cy="1773.5" r="5.7"/></g>
<g id="n88_570"><circle cx="239.4" cy="1793.8" r="5.7"/></g><g id="n88_650"><circle cx="273" cy="1793.8" r="5.7"/></g><g id="n88_729"><circle cx="306.2" cy="1793.8" r="5.7"/></g><g id="n88_808"><circle cx="339.4" cy="1793.8" r="5.7"/></g><g id="n88_887"><circle cx="372.5" cy="1793.8" r="5.7"/></g><g id="n88_967"><circle cx="406.1" cy="1793.8" r="5.7"/></g><g id="n88_1365"><circle cx="573.3" cy="1793.8" r="5.7"/></g>
<g id="n89_602"><circle cx="252.8" cy="1814" r="5.7"/></g><g id="n89_690"><circle cx="289.8" cy="1814" r="5.7"/></g><g id="n89_770"><circle cx="323.4" cy="1814" r="5.7"/></g><g id="n89_887"><circle cx="372.5" cy="1814" r="5.7"/></g><g id="n89_967"><circle cx="406.1" cy="1814" r="5.7"/></g>
<g id="n90_602"><circle cx="252.8" cy="1834.3" r="5.7"/></g><g id="n90_690"><circle cx="289.8" cy="1834.3" r="5.7"/></g><g id="n90_770"><circle cx="323.4" cy="1834.3" r="5.7"/></g><g id="n90_887"><circle cx="372.5" cy="1834.3" r="5.7"/></g><g id="n90_967"><circle cx="406.1" cy="1834.3" r="5.7"/></g>
<g id="n91_510"><circle cx="214.2" cy="1854.6" r="5.7"/></g><g id="n91_602"><circle cx="252.8" cy="1854.6" r="5.7"/></g><g id="n91_690"><circle cx="289.8" cy="1854.6" r="5.7"/></g><g id="n91_770"><circle cx="323.4" cy="1854.6" r="5.7"/></g><g id="n91_850"><circle cx="357" cy="1854.6" r="5.7"/></g><g id="n91_929"><circle cx="390.2" cy="1854.6" r="5.7"/></g><g id="n91_1008"><circle cx="423.4" cy="1854.6" r="5.7"/></g>
<g id="n92_471"><circle cx="197.8" cy="1874.8" r="5.7"/></g><g id="n92_602"><circle cx="252.8" cy="1874.8" r="5.7"/></g><g id="n92_690"><circle cx="289.8" cy="1874.8" r="5.7"/></g><g id="n92_770"><circle cx="323.4" cy="1874.8" r="5.7"/></g><g id="n92_850"><circle cx="357" cy="1874.8" r="5.7"/></g><g id="n92_929"><circle cx="390.2" cy="1874.8" r="5.7"/></g><g id="n92_1008"><circle cx="423.4" cy="1874.8" r="5.7"/></g>
<g id="n93_452"><circle cx="189.8" cy="1895.1" r="5.7"/></g><g id="n93_531"><circle cx="223" cy="1895.1" r="5.7"/></g><g id="n93_612"><circle cx="257" cy="1895.1" r="5.7"/></g><g id="n93_690"><circle cx="289.8" cy="1895.1" r="5.7"/></g><g id="n93_770"><circle cx="323.4" cy="1895.1" r="5.7"/></g><g id="n93_850"><circle cx="357" cy="1895.1" r="5.7"/></g><g id="n93_929"><circle cx="390.2" cy="1895.1" r="5.7"/></g>
<g id="n94_452"><circle cx="189.8" cy="1915.4" r="5.7"/></g><g id="n94_531"><circle cx="223" cy="1915.4" r="5.7"/></g><g id="n94_612"><circle cx="257" cy="1915.4" r="5.7"/></g><g id="n94_690"><circle cx="289.8" cy="1915.4" r="5.7"/></g><g id="n94_770"><circle cx="323.4" cy="1915.4" r="5.7"/></g><g id="n94_850"><circle cx="357" cy="1915.4" r="5.7"/></g><g id="n94_929"><circle cx="390.2" cy="1915.4" r="5.7"/></g>
<g id="n95_531"><circle cx="223" cy="1935.7" r="5.7"/></g><g id="n95_612"><circle cx="257" cy="1935.7" r="5.7"/></g><g id="n95_690"><circle cx="289.8" cy="1935.7" r="5.7"/></g><g id="n95_770"><circle cx="323.4" cy="1935.7" r="5.7"/></g><g id="n95_850"><circle cx="357" cy="1935.7" r="5.7"/></g><g id="n95_929"><circle cx="390.2" cy="1935.7" r="5.7"/></g><g id="n95_1008"><circle cx="423.4" cy="1935.7" r="5.7"/></g>
<g id="n96_531"><circle cx="223" cy="1955.9" r="5.7"/></g><g id="n96_612"><circle cx="257" cy="1955.9" r="5.7"/></g><g id="n96_690"><circle cx="289.8" cy="1955.9" r="5.7"/></g><g id="n96_770"><circle cx="323.4" cy="1955.9" r="5.7"/></g><g id="n96_850"><circle cx="357" cy="1955.9" r="5.7"/></g><g id="n96_929"><circle cx="390.2" cy="1955.9" r="5.7"/></g><g id="n96_1008"><circle cx="423.4" cy="1955.9" r="5.7"/></g>
<g id="n97_452"><circle cx="189.8" cy="1976.2" r="5.7"/></g><g id="n97_531"><circle cx="223" cy="1976.2" r="5.7"/></g><g id="n97_690"><circle cx="289.8" cy="1976.2" r="5.7"/></g><g id="n97_850"><circle cx="357" cy="1976.2" r="5.7"/></g><g id="n97_929"><circle cx="390.2" cy="1976.2" r="5.7"/></g><g id="n97_1008"><circle cx="423.4" cy="1976.2" r="5.7"/></g><g id="n97_1088"><circle cx="457" cy="1976.2" r="5.7"/></g>
<g id="n98_452"><circle cx="189.8" cy="1996.5" r="5.7"/></g><g id="n98_531"><circle cx="223" cy="1996.5" r="5.7"/></g><g id="n98_690"><circle cx="289.8" cy="1996.5" r="5.7"/></g><g id="n98_850"><circle cx="357" cy="1996.5" r="5.7"/></g><g id="n98_929"><circle cx="390.2" cy="1996.5" r="5.7"/></g><g id="n98_1008"><circle cx="423.4" cy="1996.5" r="5.7"/></g><g id="n98_1088"><circle cx="457" cy="1996.5" r="5.7"/></g>
<g id="n99_452"><circle cx="189.8" cy="2016.7" r="5.7"/></g><g id="n99_531"><circle cx="223" cy="2016.7" r="5.7"/></g><g id="n99_612"><circle cx="257" cy="2016.7" r="5.7"/></g><g id="n99_690"><circle cx="289.8" cy="2016.7" r="5.7"/></g><g id="n99_770"><circle cx="323.4" cy="2016.7" r="5.7"/></g><g id="n99_967"><circle cx="406.1" cy="2016.7" r="5.7"/></g><g id="n99_1047"><circle cx="439.7" cy="2016.7" r="5.7"/></g>
<g id="n100_452"><circle cx="189.8" cy="2037" r="5.7"/></g><g id="n100_531"><circle cx="223" cy="2037" r="5.7"/></g><g id="n100_612"><circle cx="257" cy="2037" r="5.7"/></g><g id="n100_690"><circle cx="289.8" cy="2037" r="5.7"/></g><g id="n100_770"><circle cx="323.4" cy="2037" r="5.7"/></g><g id="n100_967"><circle cx="406.1" cy="2037" r="5.7"/></g><g id="n100_1047"><circle cx="439.7" cy="2037" r="5.7"/></g>
<g id="n101_452"><circle cx="189.8" cy="2057.3" r="5.7"/></g><g id="n101_572"><circle cx="240.2" cy="2057.3" r="5.7"/></g><g id="n101_690"><circle cx="289.8" cy="2057.3" r="5.7"/></g><g id="n101_770"><circle cx="323.4" cy="2057.3" r="5.7"/></g><g id="n101_967"><circle cx="406.1" cy="2057.3" r="5.7"/></g>
<g id="n102_452"><circle cx="189.8" cy="2077.5" r="5.7"/></g><g id="n102_612"><circle cx="257" cy="2077.5" r="5.7"/></g><g id="n102_690"><circle cx="289.8" cy="2077.5" r="5.7"/></g><g id="n102_770"><circle cx="323.4" cy="2077.5" r="5.7"/></g><g id="n102_967"><circle cx="406.1" cy="2077.5" r="5.7"/></g>
<g id="n103_373"><circle cx="156.7" cy="2097.8" r="5.7"/></g><g id="n103_452"><circle cx="189.8" cy="2097.8" r="5.7"/></g><g id="n103_531"><circle cx="223" cy="2097.8" r="5.7"/></g><g id="n103_612"><circle cx="257" cy="2097.8" r="5.7"/></g><g id="n103_690"><circle cx="289.8" cy="2097.8" r="5.7"/></g><g id="n103_967"><circle cx="406.1" cy="2097.8" r="5.7"/></g>
<g id="n104_373"><circle cx="156.7" cy="2118.1" r="5.7"/></g><g id="n104_452"><circle cx="189.8" cy="2118.1" r="5.7"/></g><g id="n104_531"><circle cx="223" cy="2118.1" r="5.7"/></g><g id="n104_612"><circle cx="257" cy="2118.1" r="5.7"/></g><g id="n104_690"><circle cx="289.8" cy="2118.1" r="5.7"/></g><g id="n104_967"><circle cx="406.1" cy="2118.1" r="5.7"/></g>
<g id="n105_258"><circle cx="108.4" cy="2138.4" r="5.7"/></g><g id="n105_377"><circle cx="158.3" cy="2138.4" r="5.7"/></g><g id="n105_531"><circle cx="223" cy="2138.4" r="5.7"/></g><g id="n105_612"><circle cx="257" cy="2138.4" r="5.7"/></g><g id="n105_690"><circle cx="289.8" cy="2138.4" r="5.7"/></g><g id="n105_967"><circle cx="406.1" cy="2138.4" r="5.7"/></g>
<g id="n106_258"><circle cx="108.4" cy="2158.6" r="5.7"/></g><g id="n106_377"><circle cx="158.3" cy="2158.6" r="5.7"/></g><g id="n106_531"><circle cx="223" cy="2158.6" r="5.7"/></g><g id="n106_612"><circle cx="257" cy="2158.6" r="5.7"/></g><g id="n106_690"><circle cx="289.8" cy="2158.6" r="5.7"/></g><g id="n106_967"><circle cx="406.1" cy="2158.6" r="5.7"/></g>
<g id="n107_142"><circle cx="59.6" cy="2178.9" r="5.7"/></g><g id="n107_221"><circle cx="92.8" cy="2178.9" r="5.7"/></g><g id="n107_300"><circle cx="126" cy="2178.9" r="5.7"/></g><g id="n107_377"><circle cx="158.3" cy="2178.9" r="5.7"/></g><g id="n107_608"><circle cx="255.4" cy="2178.9" r="5.7"/></g><g id="n107_688"><circle cx="289" cy="2178.9" r="5.7"/></g><g id="n107_926"><circle cx="388.9" cy="2178.9" r="5.7"/></g><g id="n107_1006"><circle cx="422.5" cy="2178.9" r="5.7"/></g>
<g id="n108_142"><circle cx="59.6" cy="2199.2" r="5.7"/></g><g id="n108_221"><circle cx="92.8" cy="2199.2" r="5.7"/></g><g id="n108_300"><circle cx="126" cy="2199.2" r="5.7"/></g><g id="n108_377"><circle cx="158.3" cy="2199.2" r="5.7"/></g><g id="n108_608"><circle cx="255.4" cy="2199.2" r="5.7"/></g><g id="n108_688"><circle cx="289" cy="2199.2" r="5.7"/></g><g id="n108_926"><circle cx="388.9" cy="2199.2" r="5.7"/></g><g id="n108_1006"><circle cx="422.5" cy="2199.2" r="5.7"/></g>
<g id="n109_142"><circle cx="59.6" cy="2219.4" r="5.7"/></g><g id="n109_221"><circle cx="92.8" cy="2219.4" r="5.7"/></g><g id="n109_300"><circle cx="126" cy="2219.4" r="5.7"/></g><g id="n109_377"><circle cx="158.3" cy="2219.4" r="5.7"/></g><g id="n109_529"><circle cx="222.2" cy="2219.4" r="5.7"/></g><g id="n109_608"><circle cx="255.4" cy="2219.4" r="5.7"/></g><g id="n109_688"><circle cx="289" cy="2219.4" r="5.7"/></g><g id="n109_964"><circle cx="404.9" cy="2219.4" r="5.7"/></g><g id="n109_1043"><circle cx="438.1" cy="2219.4" r="5.7"/></g>
<g id="n110_142"><circle cx="59.6" cy="2239.7" r="5.7"/></g><g id="n110_221"><circle cx="92.8" cy="2239.7" r="5.7"/></g><g id="n110_300"><circle cx="126" cy="2239.7" r="5.7"/></g><g id="n110_377"><circle cx="158.3" cy="2239.7" r="5.7"/></g><g id="n110_529"><circle cx="222.2" cy="2239.7" r="5.7"/></g><g id="n110_608"><circle cx="255.4" cy="2239.7" r="5.7"/></g><g id="n110_688"><circle cx="289" cy="2239.7" r="5.7"/></g><g id="n110_964"><circle cx="404.9" cy="2239.7" r="5.7"/></g><g id="n110_1043"><circle cx="438.1" cy="2239.7" r="5.7"/></g>
<g id="n111_103"><circle cx="43.3" cy="2260" r="5.7"/></g><g id="n111_182"><circle cx="76.4" cy="2260" r="5.7"/></g><g id="n111_271"><circle cx="113.8" cy="2260" r="5.7"/></g><g id="n111_351"><circle cx="147.4" cy="2260" r="5.7"/></g><g id="n111_450"><circle cx="189" cy="2260" r="5.7"/></g><g id="n111_529"><circle cx="222.2" cy="2260" r="5.7"/></g><g id="n111_608"><circle cx="255.4" cy="2260" r="5.7"/></g><g id="n111_964"><circle cx="404.9" cy="2260" r="5.7"/></g>
<g id="n112_103"><circle cx="43.3" cy="2280.2" r="5.7"/></g><g id="n112_182"><circle cx="76.4" cy="2280.2" r="5.7"/></g><g id="n112_271"><circle cx="113.8" cy="2280.2" r="5.7"/></g><g id="n112_351"><circle cx="147.4" cy="2280.2" r="5.7"/></g><g id="n112_450"><circle cx="189" cy="2280.2" r="5.7"/></g><g id="n112_529"><circle cx="222.2" cy="2280.2" r="5.7"/></g><g id="n112_608"><circle cx="255.4" cy="2280.2" r="5.7"/></g><g id="n112_964"><circle cx="404.9" cy="2280.2" r="5.7"/></g>
<g id="n113_24"><circle cx="10.1" cy="2300.5" r="5.7"/></g><g id="n113_103"><circle cx="43.3" cy="2300.5" r="5.7"/></g><g id="n113_182"><circle cx="76.4" cy="2300.5" r="5.7"/></g><g id="n113_271"><circle cx="113.8" cy="2300.5" r="5.7"/></g><g id="n113_450"><circle cx="189" cy="2300.5" r="5.7"/></g><g id="n113_570"><circle cx="239.4" cy="2300.5" r="5.7"/></g><g id="n113_650"><circle cx="273" cy="2300.5" r="5.7"/></g><g id="n113_964"><circle cx="404.9" cy="2300.5" r="5.7"/></g>
<g id="n114_24"><circle cx="10.1" cy="2320.8" r="5.7"/></g><g id="n114_103"><circle cx="43.3" cy="2320.8" r="5.7"/></g><g id="n114_182"><circle cx="76.4" cy="2320.8" r="5.7"/></g><g id="n114_271"><circle cx="113.8" cy="2320.8" r="5.7"/></g><g id="n114_450"><circle cx="189" cy="2320.8" r="5.7"/></g><g id="n114_570"><circle cx="239.4" cy="2320.8" r="5.7"/></g><g id="n114_650"><circle cx="273" cy="2320.8" r="5.7"/></g><g id="n114_964"><circle cx="404.9" cy="2320.8" r="5.7"/></g>
<g id="n115_24"><circle cx="10.1" cy="2341.1" r="5.7"/></g><g id="n115_103"><circle cx="43.3" cy="2341.1" r="5.7"/></g><g id="n115_450"><circle cx="189" cy="2341.1" r="5.7"/></g><g id="n115_548"><circle cx="230.2" cy="2341.1" r="5.7"/></g><g id="n115_628"><circle cx="263.8" cy="2341.1" r="5.7"/></g><g id="n115_964"><circle cx="404.9" cy="2341.1" r="5.7"/></g>
<g id="n116_24"><circle cx="10.1" cy="2361.3" r="5.7"/></g><g id="n116_103"><circle cx="43.3" cy="2361.3" r="5.7"/></g><g id="n116_450"><circle cx="189" cy="2361.3" r="5.7"/></g><g id="n116_548"><circle cx="230.2" cy="2361.3" r="5.7"/></g><g id="n116_628"><circle cx="263.8" cy="2361.3" r="5.7"/></g><g id="n116_964"><circle cx="404.9" cy="2361.3" r="5.7"/></g>
<g id="n117_548"><circle cx="230.2" cy="2381.6" r="5.7"/></g><g id="n117_628"><circle cx="263.8" cy="2381.6" r="5.7"/></g>
<g id="n118_548"><circle cx="230.2" cy="2401.9" r="5.7"/></g><g id="n118_628"><circle cx="263.8" cy="2401.9" r="5.7"/></g>
<g id="n119_548"><circle cx="230.2" cy="2422.1" r="5.7"/></g><g id="n119_628"><circle cx="263.8" cy="2422.1" r="5.7"/></g>
<g id="n120_548"><circle cx="230.2" cy="2442.4" r="5.7"/></g><g id="n120_628"><circle cx="263.8" cy="2442.4" r="5.7"/></g>
<g id="n121_628"><circle cx="263.8" cy="2462.7" r="5.7"/></g>
<g id="n122_628"><circle cx="263.8" cy="2482.9" r="5.7"/></g>
</g>
</svg>
